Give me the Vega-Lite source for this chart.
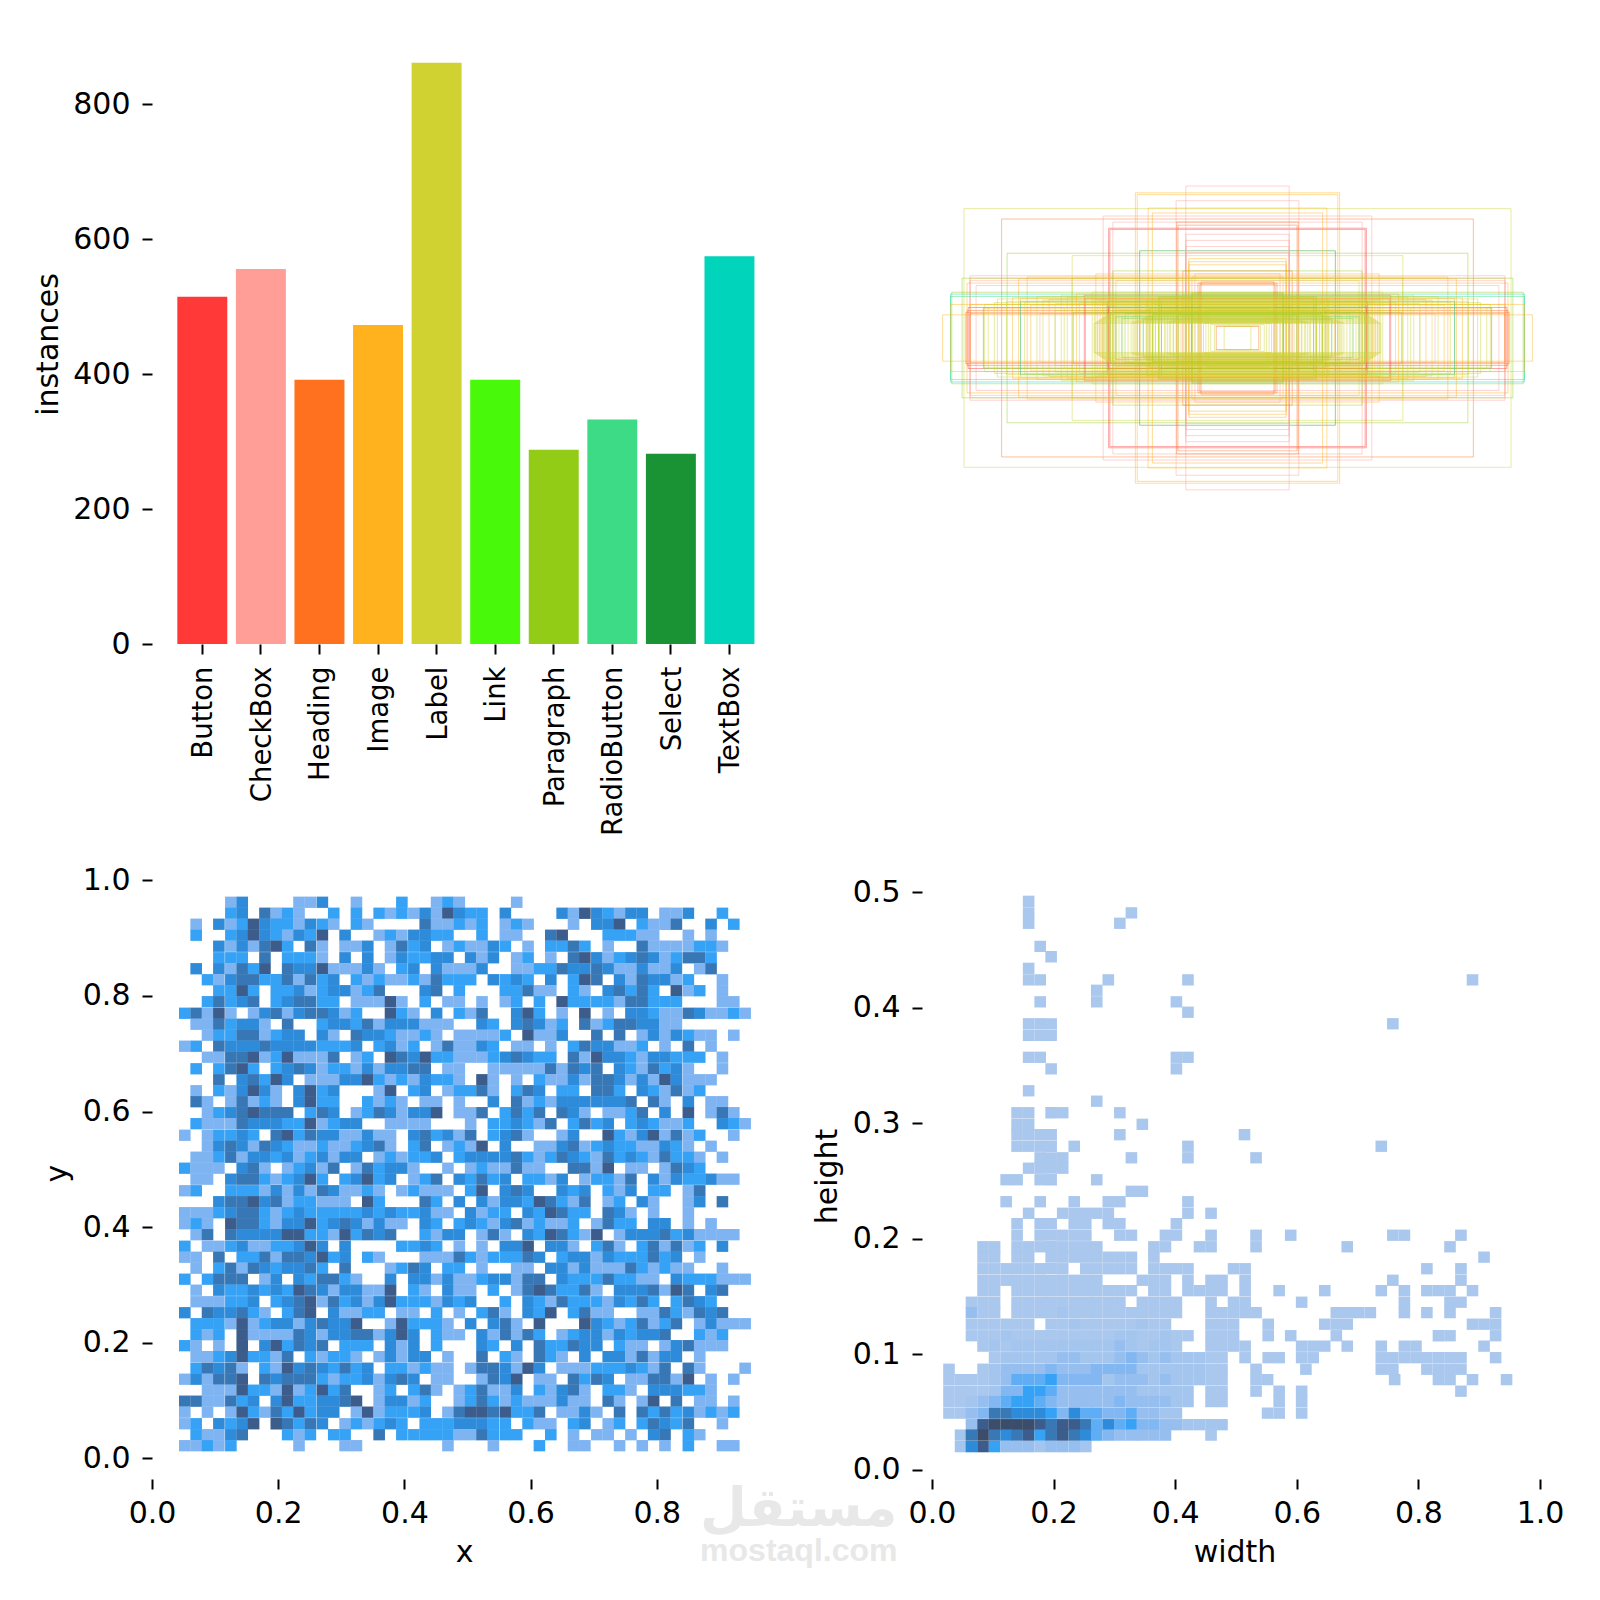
{"$schema":"https://vega.github.io/schema/vega-lite/v6.json","background":"white","padding":{"left":33,"top":32,"right":5,"bottom":5},"columns":2,"bounds":"flush","spacing":{"column":139,"row":223},"resolve":{"scale":{"color":"independent","stroke":"independent"}},
"config":{"view":{"stroke":null},"font":"DejaVu Sans","axis":{"grid":false,"domain":false,"labelFlush":false,"tickColor":"black","tickWidth":2,"tickSize":10,"labelColor":"black","titleColor":"black","labelFontSize":30,"titleFontSize":30,"titleFontWeight":"normal","labelPadding":9}},
"concat":[
{"width":631,"height":612,"data":{"values":[{"k":"Button","n":515},{"k":"CheckBox","n":556},{"k":"Heading","n":392},{"k":"Image","n":473},{"k":"Label","n":862},{"k":"Link","n":392},{"k":"Paragraph","n":288},{"k":"RadioButton","n":333},{"k":"Select","n":282},{"k":"TextBox","n":575}]},
"mark":"bar","encoding":{"x":{"field":"k","type":"nominal","sort":null,"title":null,"scale":{"paddingInner":0.147,"paddingOuter":0.46,"align":0.47},"axis":{"labelAngle":270,"labelPadding":12,"labelOffset":2,"labelFontSize":27.5}},"y":{"field":"n","type":"quantitative","title":"instances","scale":{"domain":[0,907.5],"nice":false},"axis":{"values":[0,200,400,600,800],"labelPadding":12,"titlePadding":9,"titleY":312}},"color":{"field":"k","type":"nominal","legend":null,"scale":{"range":["#FF3838","#FF9D97","#FF701F","#FFB21D","#CFD231","#48F90A","#92CC17","#3DDB86","#1A9334","#00D4BB"]}}}},
{"width":631,"height":612,"data":{"values":[
{"x":-0.45,"x2":0.45,"y":-0.212,"y2":0.212,"k":"Label"},{"x":-0.388,"x2":0.388,"y":-0.195,"y2":0.195,"k":"Heading"},{"x":-0.379,"x2":0.379,"y":-0.139,"y2":0.139,"k":"Paragraph"},{"x":-0.272,"x2":0.272,"y":-0.135,"y2":0.135,"k":"Label"},{"x":-0.161,"x2":0.161,"y":-0.143,"y2":0.143,"k":"Select"},{"x":-0.212,"x2":0.212,"y":-0.18,"y2":0.18,"k":"Button"},{"x":-0.21,"x2":0.21,"y":-0.178,"y2":0.178,"k":"Button"},{"x":-0.221,"x2":0.221,"y":-0.2,"y2":0.2,"k":"CheckBox"},{"x":-0.205,"x2":0.205,"y":-0.19,"y2":0.19,"k":"CheckBox"},{"x":-0.168,"x2":0.168,"y":-0.238,"y2":0.238,"k":"Image"},{"x":-0.165,"x2":0.165,"y":-0.235,"y2":0.235,"k":"Image"},{"x":-0.085,"x2":0.085,"y":-0.249,"y2":0.249,"k":"CheckBox"},{"x":-0.101,"x2":0.101,"y":-0.225,"y2":0.225,"k":"CheckBox"},{"x":-0.147,"x2":0.147,"y":-0.213,"y2":0.213,"k":"Image"},{"x":-0.14,"x2":0.14,"y":-0.205,"y2":0.205,"k":"Image"},{"x":-0.1,"x2":0.1,"y":-0.19,"y2":0.19,"k":"Heading"},{"x":-0.098,"x2":0.098,"y":-0.185,"y2":0.185,"k":"Heading"},{"x":-0.085,"x2":0.085,"y":-0.17,"y2":0.17,"k":"CheckBox"},{"x":-0.085,"x2":0.085,"y":-0.16,"y2":0.16,"k":"CheckBox"},{"x":-0.085,"x2":0.085,"y":-0.15,"y2":0.15,"k":"CheckBox"},{"x":-0.085,"x2":0.085,"y":-0.14,"y2":0.14,"k":"CheckBox"},{"x":-0.08,"x2":0.08,"y":-0.13,"y2":0.13,"k":"Image"},{"x":-0.08,"x2":0.08,"y":-0.125,"y2":0.125,"k":"Image"},{"x":-0.08,"x2":0.08,"y":-0.12,"y2":0.12,"k":"Image"},{"x":-0.09,"x2":0.09,"y":-0.11,"y2":0.11,"k":"Heading"},{"x":-0.07,"x2":0.07,"y":-0.105,"y2":0.105,"k":"CheckBox"},{"x":-0.075,"x2":0.075,"y":-0.1,"y2":0.1,"k":"Image"},
{"x":-0.44,"x2":0.44,"y":-0.102,"y2":0.102,"k":"CheckBox"},{"x":-0.44,"x2":0.44,"y":-0.098,"y2":0.098,"k":"CheckBox"},{"x":-0.44,"x2":0.44,"y":-0.094,"y2":0.094,"k":"CheckBox"},{"x":-0.445,"x2":0.445,"y":-0.09,"y2":0.09,"k":"Image"},{"x":-0.43,"x2":0.43,"y":-0.086,"y2":0.086,"k":"CheckBox"},{"x":-0.453,"x2":0.453,"y":-0.098,"y2":0.098,"k":"Paragraph"},{"x":-0.36,"x2":0.36,"y":-0.097,"y2":0.097,"k":"Image"},{"x":-0.346,"x2":0.346,"y":-0.1,"y2":0.1,"k":"Image"},{"x":-0.272,"x2":0.272,"y":-0.098,"y2":0.098,"k":"Label"},{"x":-0.233,"x2":0.233,"y":-0.105,"y2":0.105,"k":"Image"},{"x":-0.205,"x2":0.205,"y":-0.11,"y2":0.11,"k":"Paragraph"},{"x":-0.2,"x2":0.2,"y":-0.094,"y2":0.094,"k":"Label"},
{"x":-0.472,"x2":0.472,"y":-0.072,"y2":0.072,"k":"TextBox"},{"x":-0.472,"x2":0.472,"y":-0.068,"y2":0.068,"k":"RadioButton"},{"x":-0.47,"x2":0.47,"y":-0.075,"y2":0.075,"k":"Paragraph"},{"x":-0.472,"x2":0.472,"y":-0.055,"y2":0.055,"k":"Image"},{"x":-0.485,"x2":0.485,"y":-0.038,"y2":0.038,"k":"Image"},{"x":-0.447,"x2":0.447,"y":-0.042,"y2":0.042,"k":"Heading"},{"x":-0.445,"x2":0.445,"y":-0.045,"y2":0.045,"k":"Heading"},{"x":-0.443,"x2":0.443,"y":-0.05,"y2":0.05,"k":"Button"},{"x":-0.44,"x2":0.44,"y":-0.055,"y2":0.055,"k":"Image"},{"x":-0.44,"x2":0.44,"y":-0.04,"y2":0.04,"k":"Heading"},{"x":-0.418,"x2":0.418,"y":-0.05,"y2":0.05,"k":"RadioButton"},{"x":-0.418,"x2":0.418,"y":-0.048,"y2":0.048,"k":"Image"},{"x":-0.416,"x2":0.416,"y":-0.055,"y2":0.055,"k":"Label"},{"x":-0.41,"x2":0.41,"y":-0.05,"y2":0.05,"k":"Label"},{"x":-0.357,"x2":0.357,"y":-0.065,"y2":0.065,"k":"Image"},{"x":-0.357,"x2":0.357,"y":-0.06,"y2":0.06,"k":"TextBox"},{"x":-0.325,"x2":0.325,"y":-0.04,"y2":0.04,"k":"CheckBox"},{"x":-0.3,"x2":0.3,"y":-0.045,"y2":0.045,"k":"Label"},{"x":-0.285,"x2":0.285,"y":-0.05,"y2":0.05,"k":"Label"},{"x":-0.27,"x2":0.27,"y":-0.042,"y2":0.042,"k":"Paragraph"},{"x":-0.26,"x2":0.26,"y":-0.058,"y2":0.058,"k":"Label"},
{"x":-0.252,"x2":0.252,"y":-0.07,"y2":0.07,"k":"Button"},{"x":-0.25,"x2":0.25,"y":-0.065,"y2":0.065,"k":"Heading"},{"x":-0.239,"x2":0.239,"y":-0.075,"y2":0.075,"k":"Label"},{"x":-0.214,"x2":0.214,"y":-0.06,"y2":0.06,"k":"Heading"},{"x":-0.212,"x2":0.212,"y":-0.05,"y2":0.05,"k":"Button"},{"x":-0.2,"x2":0.2,"y":-0.035,"y2":0.035,"k":"TextBox"},{"x":-0.19,"x2":0.19,"y":-0.032,"y2":0.032,"k":"RadioButton"},{"x":-0.18,"x2":0.18,"y":-0.04,"y2":0.04,"k":"Label"},{"x":-0.172,"x2":0.172,"y":-0.036,"y2":0.036,"k":"Label"},{"x":-0.165,"x2":0.165,"y":-0.044,"y2":0.044,"k":"Label"},{"x":-0.155,"x2":0.155,"y":-0.03,"y2":0.03,"k":"TextBox"},{"x":-0.145,"x2":0.145,"y":-0.048,"y2":0.048,"k":"Paragraph"},{"x":-0.138,"x2":0.138,"y":-0.038,"y2":0.038,"k":"Label"},{"x":-0.13,"x2":0.13,"y":-0.068,"y2":0.068,"k":"Paragraph"},{"x":-0.128,"x2":0.128,"y":-0.066,"y2":0.066,"k":"Paragraph"},{"x":-0.125,"x2":0.125,"y":-0.064,"y2":0.064,"k":"Paragraph"},{"x":-0.075,"x2":0.075,"y":-0.07,"y2":0.07,"k":"Paragraph"},{"x":-0.075,"x2":0.075,"y":-0.072,"y2":0.072,"k":"Paragraph"},{"x":-0.075,"x2":0.075,"y":-0.074,"y2":0.074,"k":"Paragraph"},{"x":-0.065,"x2":0.065,"y":-0.09,"y2":0.09,"k":"Heading"},{"x":-0.062,"x2":0.062,"y":-0.088,"y2":0.088,"k":"Heading"},{"x":-0.06,"x2":0.06,"y":-0.092,"y2":0.092,"k":"Heading"},
{"x":-0.4,"x2":0.4,"y":-0.058,"y2":0.058,"k":"Label"},{"x":-0.38,"x2":0.38,"y":-0.06,"y2":0.06,"k":"Label"},{"x":-0.34,"x2":0.34,"y":-0.054,"y2":0.054,"k":"Image"},{"x":-0.32,"x2":0.32,"y":-0.062,"y2":0.062,"k":"Label"},{"x":-0.3,"x2":0.3,"y":-0.056,"y2":0.056,"k":"Label"},{"x":-0.235,"x2":0.235,"y":-0.063,"y2":0.063,"k":"Label"},{"x":-0.23,"x2":0.23,"y":-0.061,"y2":0.061,"k":"Label"},{"x":-0.226,"x2":0.226,"y":-0.059,"y2":0.059,"k":"Image"},{"x":-0.222,"x2":0.222,"y":-0.057,"y2":0.057,"k":"Label"},{"x":-0.218,"x2":0.218,"y":-0.054,"y2":0.054,"k":"Label"},{"x":-0.215,"x2":0.215,"y":-0.052,"y2":0.052,"k":"Paragraph"},{"x":-0.21,"x2":0.21,"y":-0.05,"y2":0.05,"k":"Label"},{"x":-0.205,"x2":0.205,"y":-0.048,"y2":0.048,"k":"Label"},{"x":-0.2,"x2":0.2,"y":-0.046,"y2":0.046,"k":"Image"},{"x":-0.195,"x2":0.195,"y":-0.044,"y2":0.044,"k":"Label"},{"x":-0.19,"x2":0.19,"y":-0.042,"y2":0.042,"k":"Label"},{"x":-0.185,"x2":0.185,"y":-0.04,"y2":0.04,"k":"Paragraph"},{"x":-0.15,"x2":0.15,"y":-0.062,"y2":0.062,"k":"Label"},{"x":-0.148,"x2":0.148,"y":-0.06,"y2":0.06,"k":"Label"},{"x":-0.143,"x2":0.143,"y":-0.058,"y2":0.058,"k":"Label"},{"x":-0.14,"x2":0.14,"y":-0.056,"y2":0.056,"k":"Label"},{"x":-0.135,"x2":0.135,"y":-0.054,"y2":0.054,"k":"Label"},{"x":-0.13,"x2":0.13,"y":-0.052,"y2":0.052,"k":"Label"},{"x":-0.125,"x2":0.125,"y":-0.05,"y2":0.05,"k":"Paragraph"},{"x":-0.12,"x2":0.12,"y":-0.048,"y2":0.048,"k":"Label"},{"x":-0.115,"x2":0.115,"y":-0.046,"y2":0.046,"k":"Label"},{"x":-0.11,"x2":0.11,"y":-0.044,"y2":0.044,"k":"Label"},{"x":-0.105,"x2":0.105,"y":-0.042,"y2":0.042,"k":"Label"},{"x":-0.1,"x2":0.1,"y":-0.04,"y2":0.04,"k":"Label"},{"x":-0.097,"x2":0.097,"y":-0.038,"y2":0.038,"k":"Paragraph"},{"x":-0.093,"x2":0.093,"y":-0.036,"y2":0.036,"k":"Label"},{"x":-0.088,"x2":0.088,"y":-0.034,"y2":0.034,"k":"Label"},{"x":-0.084,"x2":0.084,"y":-0.032,"y2":0.032,"k":"Label"},{"x":-0.08,"x2":0.08,"y":-0.03,"y2":0.03,"k":"Label"},{"x":-0.076,"x2":0.076,"y":-0.028,"y2":0.028,"k":"Paragraph"},{"x":-0.07,"x2":0.07,"y":-0.026,"y2":0.026,"k":"Label"},{"x":-0.064,"x2":0.064,"y":-0.052,"y2":0.052,"k":"Label"},{"x":-0.06,"x2":0.06,"y":-0.05,"y2":0.05,"k":"Label"},{"x":-0.056,"x2":0.056,"y":-0.024,"y2":0.024,"k":"Image"},{"x":-0.052,"x2":0.052,"y":-0.048,"y2":0.048,"k":"Label"},{"x":-0.048,"x2":0.048,"y":-0.046,"y2":0.046,"k":"Label"},{"x":-0.044,"x2":0.044,"y":-0.022,"y2":0.022,"k":"Label"},{"x":-0.038,"x2":0.038,"y":-0.02,"y2":0.02,"k":"Label"},{"x":-0.035,"x2":0.035,"y":-0.019,"y2":0.019,"k":"Heading"},{"x":-0.022,"x2":0.022,"y":-0.019,"y2":0.019,"k":"Label"},
{"x":-0.236,"x2":0.236,"y":-0.024,"y2":0.024,"k":"Label"},{"x":-0.233,"x2":0.233,"y":-0.026,"y2":0.026,"k":"Label"},{"x":-0.23,"x2":0.23,"y":-0.028,"y2":0.028,"k":"Label"},{"x":-0.227,"x2":0.227,"y":-0.03,"y2":0.03,"k":"Label"},{"x":-0.224,"x2":0.224,"y":-0.032,"y2":0.032,"k":"Label"},{"x":-0.221,"x2":0.221,"y":-0.034,"y2":0.034,"k":"Image"},{"x":-0.218,"x2":0.218,"y":-0.036,"y2":0.036,"k":"Label"},{"x":-0.215,"x2":0.215,"y":-0.038,"y2":0.038,"k":"Label"},{"x":-0.212,"x2":0.212,"y":-0.04,"y2":0.04,"k":"Label"},{"x":-0.209,"x2":0.209,"y":-0.042,"y2":0.042,"k":"Paragraph"},{"x":-0.206,"x2":0.206,"y":-0.044,"y2":0.044,"k":"Label"},{"x":-0.203,"x2":0.203,"y":-0.046,"y2":0.046,"k":"Label"},{"x":-0.175,"x2":0.175,"y":-0.025,"y2":0.025,"k":"Label"},{"x":-0.17,"x2":0.17,"y":-0.027,"y2":0.027,"k":"Label"},{"x":-0.165,"x2":0.165,"y":-0.029,"y2":0.029,"k":"Label"},{"x":-0.16,"x2":0.16,"y":-0.031,"y2":0.031,"k":"Image"},{"x":-0.155,"x2":0.155,"y":-0.033,"y2":0.033,"k":"Label"},{"x":-0.15,"x2":0.15,"y":-0.035,"y2":0.035,"k":"Label"},{"x":-0.145,"x2":0.145,"y":-0.037,"y2":0.037,"k":"Label"},{"x":-0.14,"x2":0.14,"y":-0.039,"y2":0.039,"k":"Paragraph"},{"x":-0.135,"x2":0.135,"y":-0.041,"y2":0.041,"k":"Label"},{"x":-0.13,"x2":0.13,"y":-0.043,"y2":0.043,"k":"Label"},{"x":-0.125,"x2":0.125,"y":-0.045,"y2":0.045,"k":"Label"},{"x":-0.118,"x2":0.118,"y":-0.025,"y2":0.025,"k":"Label"},{"x":-0.112,"x2":0.112,"y":-0.027,"y2":0.027,"k":"Label"},{"x":-0.106,"x2":0.106,"y":-0.029,"y2":0.029,"k":"Label"},{"x":-0.395,"x2":0.395,"y":-0.064,"y2":0.064,"k":"Label"},{"x":-0.37,"x2":0.37,"y":-0.066,"y2":0.066,"k":"Image"},{"x":-0.35,"x2":0.35,"y":-0.059,"y2":0.059,"k":"Label"},{"x":-0.33,"x2":0.33,"y":-0.068,"y2":0.068,"k":"Label"},{"x":-0.31,"x2":0.31,"y":-0.063,"y2":0.063,"k":"Image"},{"x":-0.29,"x2":0.29,"y":-0.07,"y2":0.07,"k":"Label"},{"x":-0.28,"x2":0.28,"y":-0.067,"y2":0.067,"k":"Label"},{"x":-0.265,"x2":0.265,"y":-0.072,"y2":0.072,"k":"Image"}
]},
"mark":{"type":"rect","fillOpacity":0,"strokeWidth":0.9,"strokeOpacity":0.5},"encoding":{"x":{"field":"x","type":"quantitative","scale":{"domain":[-0.519,0.519],"nice":false,"zero":false},"axis":null},"x2":{"field":"x2"},"y":{"field":"y","type":"quantitative","scale":{"domain":[-0.5016,0.5016],"nice":false,"zero":false},"axis":null},"y2":{"field":"y2"},"stroke":{"field":"k","type":"nominal","legend":null,"scale":{"domain":["Button","CheckBox","Heading","Image","Label","Link","Paragraph","RadioButton","Select","TextBox"],"range":["#FF3838","#FF9D97","#FF701F","#FFB21D","#CFD231","#48F90A","#92CC17","#3DDB86","#1A9334","#00D4BB"]}}}},
{"width":631,"height":612,"layer":[
{"data":{"values":[
{"x":125,"y":962,"c":1},{"x":143,"y":962,"c":3},{"x":233,"y":962,"c":1},{"x":251,"y":962,"c":1},{"x":270,"y":962,"c":3},{"x":324,"y":962,"c":1},{"x":396,"y":962,"c":2},{"x":451,"y":962,"c":1},{"x":469,"y":962,"c":2},{"x":487,"y":962,"c":1},{"x":578,"y":962,"c":1},
{"x":125,"y":943,"c":2},{"x":143,"y":943,"c":3},{"x":179,"y":943,"c":4},{"x":197,"y":943,"c":1},{"x":215,"y":943,"c":2},{"x":233,"y":943,"c":1},{"x":288,"y":943,"c":2},{"x":324,"y":943,"c":2},{"x":360,"y":943,"c":2},{"x":378,"y":943,"c":1},{"x":396,"y":943,"c":2},{"x":415,"y":943,"c":1},{"x":433,"y":943,"c":3},{"x":451,"y":943,"c":1},{"x":469,"y":943,"c":5},{"x":487,"y":943,"c":3},{"x":505,"y":943,"c":2},{"x":523,"y":943,"c":2},{"x":560,"y":943,"c":3},{"x":650,"y":943,"c":3},{"x":668,"y":943,"c":1},{"x":686,"y":943,"c":5},{"x":705,"y":943,"c":3},{"x":723,"y":943,"c":2},{"x":741,"y":943,"c":1},{"x":759,"y":943,"c":3},{"x":777,"y":943,"c":3},{"x":813,"y":943,"c":1},{"x":831,"y":943,"c":1},{"x":850,"y":943,"c":3},{"x":904,"y":943,"c":2},
{"x":70,"y":924,"c":1},{"x":106,"y":924,"c":3},{"x":125,"y":924,"c":1},{"x":143,"y":924,"c":2},{"x":161,"y":924,"c":5},{"x":179,"y":924,"c":3},{"x":197,"y":924,"c":2},{"x":215,"y":924,"c":2},{"x":233,"y":924,"c":1},{"x":251,"y":924,"c":3},{"x":270,"y":924,"c":2},{"x":288,"y":924,"c":1},{"x":324,"y":924,"c":2},{"x":342,"y":924,"c":1},{"x":433,"y":924,"c":4},{"x":451,"y":924,"c":1},{"x":469,"y":924,"c":1},{"x":487,"y":924,"c":2},{"x":505,"y":924,"c":1},{"x":523,"y":924,"c":2},{"x":560,"y":924,"c":1},{"x":578,"y":924,"c":2},{"x":596,"y":924,"c":1},{"x":668,"y":924,"c":1},{"x":705,"y":924,"c":3},{"x":723,"y":924,"c":3},{"x":741,"y":924,"c":5},{"x":777,"y":924,"c":2},{"x":795,"y":924,"c":1},{"x":813,"y":924,"c":1},{"x":831,"y":924,"c":4},{"x":886,"y":924,"c":3},{"x":922,"y":924,"c":2},
{"x":70,"y":905,"c":2},{"x":125,"y":905,"c":2},{"x":143,"y":905,"c":3},{"x":161,"y":905,"c":5},{"x":179,"y":905,"c":3},{"x":197,"y":905,"c":2},{"x":215,"y":905,"c":1},{"x":233,"y":905,"c":3},{"x":251,"y":905,"c":2},{"x":270,"y":905,"c":5},{"x":306,"y":905,"c":3},{"x":360,"y":905,"c":1},{"x":378,"y":905,"c":2},{"x":396,"y":905,"c":1},{"x":415,"y":905,"c":3},{"x":433,"y":905,"c":3},{"x":451,"y":905,"c":2},{"x":469,"y":905,"c":2},{"x":523,"y":905,"c":2},{"x":560,"y":905,"c":1},{"x":578,"y":905,"c":1},{"x":632,"y":905,"c":4},{"x":650,"y":905,"c":5},{"x":723,"y":905,"c":2},{"x":741,"y":905,"c":2},{"x":759,"y":905,"c":2},{"x":777,"y":905,"c":1},{"x":795,"y":905,"c":1},{"x":850,"y":905,"c":1},{"x":886,"y":905,"c":1},
{"x":106,"y":886,"c":3},{"x":125,"y":886,"c":1},{"x":143,"y":886,"c":3},{"x":161,"y":886,"c":1},{"x":179,"y":886,"c":4},{"x":197,"y":886,"c":5},{"x":215,"y":886,"c":2},{"x":251,"y":886,"c":4},{"x":270,"y":886,"c":1},{"x":306,"y":886,"c":1},{"x":324,"y":886,"c":1},{"x":342,"y":886,"c":3},{"x":378,"y":886,"c":1},{"x":396,"y":886,"c":4},{"x":415,"y":886,"c":2},{"x":433,"y":886,"c":3},{"x":469,"y":886,"c":1},{"x":487,"y":886,"c":2},{"x":505,"y":886,"c":1},{"x":523,"y":886,"c":1},{"x":541,"y":886,"c":3},{"x":560,"y":886,"c":2},{"x":596,"y":886,"c":1},{"x":632,"y":886,"c":2},{"x":650,"y":886,"c":2},{"x":668,"y":886,"c":4},{"x":686,"y":886,"c":2},{"x":723,"y":886,"c":1},{"x":777,"y":886,"c":4},{"x":795,"y":886,"c":1},{"x":813,"y":886,"c":1},{"x":831,"y":886,"c":1},{"x":850,"y":886,"c":1},{"x":868,"y":886,"c":2},{"x":886,"y":886,"c":2},{"x":904,"y":886,"c":1},
{"x":106,"y":866,"c":2},{"x":125,"y":866,"c":2},{"x":143,"y":866,"c":2},{"x":179,"y":866,"c":4},{"x":215,"y":866,"c":2},{"x":233,"y":866,"c":2},{"x":251,"y":866,"c":2},{"x":270,"y":866,"c":1},{"x":306,"y":866,"c":3},{"x":342,"y":866,"c":3},{"x":378,"y":866,"c":1},{"x":396,"y":866,"c":3},{"x":415,"y":866,"c":2},{"x":433,"y":866,"c":2},{"x":451,"y":866,"c":3},{"x":469,"y":866,"c":3},{"x":505,"y":866,"c":3},{"x":523,"y":866,"c":1},{"x":541,"y":866,"c":3},{"x":578,"y":866,"c":1},{"x":596,"y":866,"c":2},{"x":632,"y":866,"c":1},{"x":668,"y":866,"c":4},{"x":686,"y":866,"c":5},{"x":705,"y":866,"c":3},{"x":723,"y":866,"c":1},{"x":741,"y":866,"c":2},{"x":759,"y":866,"c":3},{"x":777,"y":866,"c":4},{"x":795,"y":866,"c":3},{"x":813,"y":866,"c":1},{"x":831,"y":866,"c":2},{"x":850,"y":866,"c":4},{"x":868,"y":866,"c":4},{"x":886,"y":866,"c":2},
{"x":70,"y":847,"c":3},{"x":106,"y":847,"c":3},{"x":125,"y":847,"c":1},{"x":143,"y":847,"c":4},{"x":161,"y":847,"c":2},{"x":179,"y":847,"c":5},{"x":215,"y":847,"c":4},{"x":233,"y":847,"c":3},{"x":251,"y":847,"c":3},{"x":270,"y":847,"c":5},{"x":288,"y":847,"c":1},{"x":306,"y":847,"c":1},{"x":324,"y":847,"c":1},{"x":342,"y":847,"c":3},{"x":360,"y":847,"c":1},{"x":396,"y":847,"c":2},{"x":415,"y":847,"c":3},{"x":451,"y":847,"c":3},{"x":469,"y":847,"c":1},{"x":487,"y":847,"c":1},{"x":505,"y":847,"c":1},{"x":523,"y":847,"c":3},{"x":578,"y":847,"c":1},{"x":596,"y":847,"c":1},{"x":614,"y":847,"c":2},{"x":632,"y":847,"c":2},{"x":650,"y":847,"c":4},{"x":668,"y":847,"c":3},{"x":686,"y":847,"c":3},{"x":705,"y":847,"c":4},{"x":723,"y":847,"c":3},{"x":741,"y":847,"c":1},{"x":759,"y":847,"c":1},{"x":777,"y":847,"c":3},{"x":795,"y":847,"c":1},{"x":813,"y":847,"c":1},{"x":831,"y":847,"c":3},{"x":868,"y":847,"c":1},{"x":886,"y":847,"c":4},
{"x":88,"y":828,"c":2},{"x":106,"y":828,"c":1},{"x":125,"y":828,"c":3},{"x":143,"y":828,"c":4},{"x":161,"y":828,"c":4},{"x":179,"y":828,"c":2},{"x":197,"y":828,"c":2},{"x":215,"y":828,"c":4},{"x":233,"y":828,"c":1},{"x":251,"y":828,"c":4},{"x":270,"y":828,"c":2},{"x":288,"y":828,"c":3},{"x":324,"y":828,"c":2},{"x":342,"y":828,"c":1},{"x":360,"y":828,"c":2},{"x":378,"y":828,"c":1},{"x":396,"y":828,"c":1},{"x":415,"y":828,"c":2},{"x":433,"y":828,"c":1},{"x":451,"y":828,"c":4},{"x":469,"y":828,"c":2},{"x":487,"y":828,"c":2},{"x":505,"y":828,"c":2},{"x":541,"y":828,"c":3},{"x":560,"y":828,"c":2},{"x":578,"y":828,"c":3},{"x":596,"y":828,"c":2},{"x":632,"y":828,"c":3},{"x":668,"y":828,"c":2},{"x":686,"y":828,"c":5},{"x":705,"y":828,"c":4},{"x":741,"y":828,"c":3},{"x":759,"y":828,"c":1},{"x":777,"y":828,"c":4},{"x":795,"y":828,"c":3},{"x":813,"y":828,"c":3},{"x":831,"y":828,"c":1},{"x":850,"y":828,"c":2},{"x":904,"y":828,"c":1},
{"x":106,"y":809,"c":2},{"x":125,"y":809,"c":2},{"x":143,"y":809,"c":5},{"x":161,"y":809,"c":2},{"x":197,"y":809,"c":2},{"x":215,"y":809,"c":2},{"x":233,"y":809,"c":3},{"x":251,"y":809,"c":1},{"x":270,"y":809,"c":2},{"x":288,"y":809,"c":3},{"x":306,"y":809,"c":3},{"x":324,"y":809,"c":1},{"x":342,"y":809,"c":2},{"x":360,"y":809,"c":4},{"x":433,"y":809,"c":3},{"x":451,"y":809,"c":4},{"x":487,"y":809,"c":2},{"x":560,"y":809,"c":2},{"x":578,"y":809,"c":2},{"x":596,"y":809,"c":4},{"x":614,"y":809,"c":1},{"x":632,"y":809,"c":1},{"x":668,"y":809,"c":2},{"x":686,"y":809,"c":1},{"x":723,"y":809,"c":3},{"x":741,"y":809,"c":4},{"x":759,"y":809,"c":2},{"x":777,"y":809,"c":4},{"x":795,"y":809,"c":2},{"x":831,"y":809,"c":5},{"x":850,"y":809,"c":1},{"x":868,"y":809,"c":2},{"x":904,"y":809,"c":1},
{"x":88,"y":790,"c":2},{"x":106,"y":790,"c":4},{"x":125,"y":790,"c":2},{"x":143,"y":790,"c":3},{"x":161,"y":790,"c":4},{"x":197,"y":790,"c":2},{"x":215,"y":790,"c":3},{"x":233,"y":790,"c":4},{"x":251,"y":790,"c":4},{"x":270,"y":790,"c":2},{"x":288,"y":790,"c":2},{"x":324,"y":790,"c":1},{"x":342,"y":790,"c":1},{"x":360,"y":790,"c":1},{"x":378,"y":790,"c":5},{"x":396,"y":790,"c":1},{"x":433,"y":790,"c":2},{"x":469,"y":790,"c":1},{"x":487,"y":790,"c":1},{"x":523,"y":790,"c":1},{"x":560,"y":790,"c":1},{"x":578,"y":790,"c":2},{"x":614,"y":790,"c":2},{"x":650,"y":790,"c":5},{"x":668,"y":790,"c":2},{"x":686,"y":790,"c":2},{"x":705,"y":790,"c":2},{"x":723,"y":790,"c":2},{"x":741,"y":790,"c":1},{"x":759,"y":790,"c":4},{"x":777,"y":790,"c":4},{"x":795,"y":790,"c":2},{"x":813,"y":790,"c":2},{"x":831,"y":790,"c":2},{"x":904,"y":790,"c":1},{"x":922,"y":790,"c":1},
{"x":52,"y":770,"c":2},{"x":70,"y":770,"c":4},{"x":88,"y":770,"c":1},{"x":106,"y":770,"c":5},{"x":125,"y":770,"c":1},{"x":161,"y":770,"c":1},{"x":179,"y":770,"c":3},{"x":197,"y":770,"c":4},{"x":215,"y":770,"c":1},{"x":233,"y":770,"c":3},{"x":251,"y":770,"c":4},{"x":270,"y":770,"c":4},{"x":288,"y":770,"c":3},{"x":306,"y":770,"c":1},{"x":324,"y":770,"c":2},{"x":378,"y":770,"c":5},{"x":396,"y":770,"c":2},{"x":415,"y":770,"c":1},{"x":451,"y":770,"c":3},{"x":487,"y":770,"c":2},{"x":505,"y":770,"c":1},{"x":523,"y":770,"c":4},{"x":578,"y":770,"c":3},{"x":596,"y":770,"c":5},{"x":614,"y":770,"c":2},{"x":650,"y":770,"c":1},{"x":686,"y":770,"c":5},{"x":723,"y":770,"c":1},{"x":759,"y":770,"c":3},{"x":777,"y":770,"c":3},{"x":795,"y":770,"c":2},{"x":813,"y":770,"c":1},{"x":831,"y":770,"c":1},{"x":850,"y":770,"c":4},{"x":868,"y":770,"c":3},{"x":886,"y":770,"c":1},{"x":904,"y":770,"c":1},{"x":922,"y":770,"c":2},{"x":940,"y":770,"c":1},
{"x":70,"y":751,"c":1},{"x":88,"y":751,"c":1},{"x":106,"y":751,"c":4},{"x":125,"y":751,"c":2},{"x":143,"y":751,"c":3},{"x":161,"y":751,"c":3},{"x":179,"y":751,"c":1},{"x":215,"y":751,"c":4},{"x":270,"y":751,"c":2},{"x":288,"y":751,"c":3},{"x":306,"y":751,"c":3},{"x":324,"y":751,"c":2},{"x":342,"y":751,"c":4},{"x":360,"y":751,"c":1},{"x":378,"y":751,"c":3},{"x":396,"y":751,"c":3},{"x":415,"y":751,"c":3},{"x":433,"y":751,"c":1},{"x":451,"y":751,"c":1},{"x":469,"y":751,"c":1},{"x":523,"y":751,"c":3},{"x":541,"y":751,"c":2},{"x":578,"y":751,"c":3},{"x":596,"y":751,"c":4},{"x":614,"y":751,"c":3},{"x":632,"y":751,"c":1},{"x":650,"y":751,"c":2},{"x":686,"y":751,"c":4},{"x":705,"y":751,"c":1},{"x":723,"y":751,"c":2},{"x":741,"y":751,"c":4},{"x":759,"y":751,"c":4},{"x":777,"y":751,"c":3},{"x":795,"y":751,"c":3},{"x":813,"y":751,"c":1},{"x":831,"y":751,"c":1},
{"x":88,"y":732,"c":1},{"x":106,"y":732,"c":2},{"x":125,"y":732,"c":2},{"x":143,"y":732,"c":4},{"x":161,"y":732,"c":4},{"x":179,"y":732,"c":1},{"x":197,"y":732,"c":2},{"x":215,"y":732,"c":3},{"x":233,"y":732,"c":3},{"x":270,"y":732,"c":3},{"x":288,"y":732,"c":1},{"x":324,"y":732,"c":4},{"x":342,"y":732,"c":3},{"x":360,"y":732,"c":3},{"x":378,"y":732,"c":2},{"x":396,"y":732,"c":1},{"x":415,"y":732,"c":1},{"x":433,"y":732,"c":2},{"x":451,"y":732,"c":1},{"x":487,"y":732,"c":1},{"x":505,"y":732,"c":1},{"x":523,"y":732,"c":1},{"x":541,"y":732,"c":1},{"x":560,"y":732,"c":2},{"x":596,"y":732,"c":5},{"x":614,"y":732,"c":1},{"x":632,"y":732,"c":1},{"x":650,"y":732,"c":3},{"x":705,"y":732,"c":4},{"x":741,"y":732,"c":4},{"x":777,"y":732,"c":1},{"x":795,"y":732,"c":3},{"x":813,"y":732,"c":1},{"x":831,"y":732,"c":3},{"x":850,"y":732,"c":2},{"x":868,"y":732,"c":1},{"x":886,"y":732,"c":1},{"x":922,"y":732,"c":1},
{"x":52,"y":713,"c":1},{"x":70,"y":713,"c":2},{"x":106,"y":713,"c":4},{"x":125,"y":713,"c":3},{"x":143,"y":713,"c":3},{"x":161,"y":713,"c":3},{"x":179,"y":713,"c":4},{"x":197,"y":713,"c":3},{"x":215,"y":713,"c":3},{"x":233,"y":713,"c":3},{"x":251,"y":713,"c":3},{"x":270,"y":713,"c":2},{"x":288,"y":713,"c":2},{"x":306,"y":713,"c":2},{"x":324,"y":713,"c":3},{"x":360,"y":713,"c":2},{"x":378,"y":713,"c":3},{"x":396,"y":713,"c":1},{"x":415,"y":713,"c":2},{"x":451,"y":713,"c":1},{"x":469,"y":713,"c":4},{"x":487,"y":713,"c":1},{"x":505,"y":713,"c":1},{"x":523,"y":713,"c":3},{"x":541,"y":713,"c":2},{"x":578,"y":713,"c":1},{"x":596,"y":713,"c":1},{"x":632,"y":713,"c":1},{"x":668,"y":713,"c":2},{"x":686,"y":713,"c":4},{"x":705,"y":713,"c":3},{"x":723,"y":713,"c":3},{"x":741,"y":713,"c":1},{"x":759,"y":713,"c":1},{"x":777,"y":713,"c":2},{"x":813,"y":713,"c":1},{"x":850,"y":713,"c":4},{"x":886,"y":713,"c":1},
{"x":88,"y":694,"c":1},{"x":106,"y":694,"c":1},{"x":125,"y":694,"c":4},{"x":143,"y":694,"c":4},{"x":161,"y":694,"c":5},{"x":179,"y":694,"c":1},{"x":197,"y":694,"c":2},{"x":215,"y":694,"c":5},{"x":233,"y":694,"c":1},{"x":251,"y":694,"c":1},{"x":270,"y":694,"c":1},{"x":288,"y":694,"c":4},{"x":324,"y":694,"c":1},{"x":342,"y":694,"c":2},{"x":378,"y":694,"c":5},{"x":396,"y":694,"c":4},{"x":415,"y":694,"c":3},{"x":433,"y":694,"c":5},{"x":451,"y":694,"c":2},{"x":469,"y":694,"c":2},{"x":487,"y":694,"c":1},{"x":505,"y":694,"c":1},{"x":523,"y":694,"c":1},{"x":541,"y":694,"c":2},{"x":560,"y":694,"c":3},{"x":578,"y":694,"c":4},{"x":596,"y":694,"c":3},{"x":614,"y":694,"c":2},{"x":632,"y":694,"c":2},{"x":668,"y":694,"c":4},{"x":686,"y":694,"c":1},{"x":705,"y":694,"c":5},{"x":723,"y":694,"c":3},{"x":741,"y":694,"c":3},{"x":759,"y":694,"c":2},{"x":777,"y":694,"c":1},{"x":795,"y":694,"c":3},{"x":813,"y":694,"c":3},{"x":831,"y":694,"c":2},{"x":850,"y":694,"c":2},{"x":868,"y":694,"c":2},{"x":904,"y":694,"c":1},
{"x":70,"y":674,"c":2},{"x":106,"y":674,"c":2},{"x":125,"y":674,"c":4},{"x":143,"y":674,"c":5},{"x":161,"y":674,"c":2},{"x":197,"y":674,"c":2},{"x":215,"y":674,"c":3},{"x":233,"y":674,"c":4},{"x":251,"y":674,"c":3},{"x":270,"y":674,"c":1},{"x":288,"y":674,"c":2},{"x":306,"y":674,"c":2},{"x":324,"y":674,"c":1},{"x":342,"y":674,"c":3},{"x":360,"y":674,"c":1},{"x":378,"y":674,"c":3},{"x":396,"y":674,"c":3},{"x":415,"y":674,"c":4},{"x":433,"y":674,"c":4},{"x":469,"y":674,"c":1},{"x":487,"y":674,"c":1},{"x":541,"y":674,"c":1},{"x":560,"y":674,"c":1},{"x":578,"y":674,"c":1},{"x":596,"y":674,"c":1},{"x":614,"y":674,"c":1},{"x":632,"y":674,"c":4},{"x":650,"y":674,"c":1},{"x":668,"y":674,"c":4},{"x":686,"y":674,"c":3},{"x":705,"y":674,"c":4},{"x":741,"y":674,"c":3},{"x":759,"y":674,"c":2},{"x":777,"y":674,"c":1},{"x":795,"y":674,"c":4},{"x":813,"y":674,"c":2},{"x":831,"y":674,"c":3},{"x":850,"y":674,"c":1},{"x":904,"y":674,"c":1},
{"x":106,"y":655,"c":4},{"x":143,"y":655,"c":3},{"x":161,"y":655,"c":4},{"x":179,"y":655,"c":2},{"x":197,"y":655,"c":5},{"x":215,"y":655,"c":3},{"x":251,"y":655,"c":1},{"x":270,"y":655,"c":1},{"x":288,"y":655,"c":1},{"x":306,"y":655,"c":3},{"x":324,"y":655,"c":3},{"x":342,"y":655,"c":5},{"x":360,"y":655,"c":2},{"x":378,"y":655,"c":1},{"x":396,"y":655,"c":2},{"x":415,"y":655,"c":1},{"x":433,"y":655,"c":3},{"x":451,"y":655,"c":2},{"x":469,"y":655,"c":2},{"x":487,"y":655,"c":1},{"x":523,"y":655,"c":5},{"x":541,"y":655,"c":1},{"x":578,"y":655,"c":1},{"x":614,"y":655,"c":2},{"x":632,"y":655,"c":1},{"x":650,"y":655,"c":1},{"x":668,"y":655,"c":3},{"x":686,"y":655,"c":1},{"x":705,"y":655,"c":4},{"x":723,"y":655,"c":4},{"x":741,"y":655,"c":3},{"x":759,"y":655,"c":1},{"x":777,"y":655,"c":3},{"x":795,"y":655,"c":1},{"x":813,"y":655,"c":5},{"x":831,"y":655,"c":3},{"x":850,"y":655,"c":1},{"x":868,"y":655,"c":1},{"x":886,"y":655,"c":1},
{"x":70,"y":636,"c":1},{"x":106,"y":636,"c":2},{"x":125,"y":636,"c":1},{"x":143,"y":636,"c":3},{"x":161,"y":636,"c":5},{"x":179,"y":636,"c":3},{"x":197,"y":636,"c":1},{"x":233,"y":636,"c":3},{"x":251,"y":636,"c":5},{"x":270,"y":636,"c":2},{"x":288,"y":636,"c":3},{"x":360,"y":636,"c":1},{"x":378,"y":636,"c":5},{"x":415,"y":636,"c":2},{"x":433,"y":636,"c":3},{"x":469,"y":636,"c":1},{"x":487,"y":636,"c":2},{"x":505,"y":636,"c":2},{"x":523,"y":636,"c":4},{"x":541,"y":636,"c":1},{"x":578,"y":636,"c":2},{"x":596,"y":636,"c":4},{"x":614,"y":636,"c":3},{"x":650,"y":636,"c":2},{"x":668,"y":636,"c":2},{"x":705,"y":636,"c":4},{"x":723,"y":636,"c":4},{"x":741,"y":636,"c":2},{"x":777,"y":636,"c":3},{"x":795,"y":636,"c":2},{"x":813,"y":636,"c":1},{"x":831,"y":636,"c":4},{"x":850,"y":636,"c":1},{"x":868,"y":636,"c":2},
{"x":70,"y":617,"c":4},{"x":88,"y":617,"c":1},{"x":125,"y":617,"c":1},{"x":143,"y":617,"c":4},{"x":161,"y":617,"c":1},{"x":179,"y":617,"c":2},{"x":197,"y":617,"c":1},{"x":233,"y":617,"c":3},{"x":251,"y":617,"c":5},{"x":270,"y":617,"c":2},{"x":288,"y":617,"c":2},{"x":342,"y":617,"c":2},{"x":360,"y":617,"c":1},{"x":378,"y":617,"c":2},{"x":396,"y":617,"c":1},{"x":433,"y":617,"c":1},{"x":451,"y":617,"c":1},{"x":487,"y":617,"c":1},{"x":541,"y":617,"c":3},{"x":578,"y":617,"c":4},{"x":596,"y":617,"c":1},{"x":614,"y":617,"c":2},{"x":632,"y":617,"c":1},{"x":650,"y":617,"c":3},{"x":668,"y":617,"c":3},{"x":686,"y":617,"c":3},{"x":705,"y":617,"c":3},{"x":723,"y":617,"c":3},{"x":741,"y":617,"c":3},{"x":759,"y":617,"c":4},{"x":795,"y":617,"c":4},{"x":813,"y":617,"c":1},{"x":850,"y":617,"c":3},{"x":886,"y":617,"c":1},{"x":904,"y":617,"c":1},
{"x":88,"y":598,"c":1},{"x":106,"y":598,"c":2},{"x":125,"y":598,"c":3},{"x":143,"y":598,"c":4},{"x":161,"y":598,"c":5},{"x":179,"y":598,"c":4},{"x":197,"y":598,"c":4},{"x":215,"y":598,"c":4},{"x":251,"y":598,"c":2},{"x":270,"y":598,"c":4},{"x":288,"y":598,"c":3},{"x":324,"y":598,"c":1},{"x":342,"y":598,"c":2},{"x":360,"y":598,"c":4},{"x":378,"y":598,"c":3},{"x":396,"y":598,"c":1},{"x":415,"y":598,"c":3},{"x":433,"y":598,"c":3},{"x":451,"y":598,"c":5},{"x":487,"y":598,"c":1},{"x":505,"y":598,"c":1},{"x":523,"y":598,"c":4},{"x":560,"y":598,"c":2},{"x":578,"y":598,"c":4},{"x":596,"y":598,"c":2},{"x":614,"y":598,"c":4},{"x":650,"y":598,"c":4},{"x":668,"y":598,"c":3},{"x":686,"y":598,"c":1},{"x":723,"y":598,"c":1},{"x":741,"y":598,"c":1},{"x":759,"y":598,"c":2},{"x":777,"y":598,"c":4},{"x":813,"y":598,"c":3},{"x":850,"y":598,"c":5},{"x":886,"y":598,"c":1},{"x":904,"y":598,"c":4},{"x":922,"y":598,"c":1},
{"x":70,"y":579,"c":2},{"x":88,"y":579,"c":1},{"x":106,"y":579,"c":1},{"x":125,"y":579,"c":1},{"x":143,"y":579,"c":4},{"x":161,"y":579,"c":3},{"x":179,"y":579,"c":3},{"x":197,"y":579,"c":3},{"x":215,"y":579,"c":2},{"x":233,"y":579,"c":2},{"x":251,"y":579,"c":5},{"x":270,"y":579,"c":1},{"x":288,"y":579,"c":2},{"x":306,"y":579,"c":3},{"x":324,"y":579,"c":3},{"x":378,"y":579,"c":1},{"x":396,"y":579,"c":1},{"x":415,"y":579,"c":1},{"x":433,"y":579,"c":1},{"x":505,"y":579,"c":1},{"x":541,"y":579,"c":2},{"x":560,"y":579,"c":2},{"x":578,"y":579,"c":3},{"x":596,"y":579,"c":2},{"x":614,"y":579,"c":1},{"x":632,"y":579,"c":4},{"x":668,"y":579,"c":2},{"x":686,"y":579,"c":4},{"x":705,"y":579,"c":2},{"x":723,"y":579,"c":3},{"x":759,"y":579,"c":2},{"x":777,"y":579,"c":3},{"x":795,"y":579,"c":2},{"x":813,"y":579,"c":1},{"x":831,"y":579,"c":1},{"x":850,"y":579,"c":2},{"x":904,"y":579,"c":3},{"x":922,"y":579,"c":2},{"x":940,"y":579,"c":1},
{"x":52,"y":559,"c":1},{"x":88,"y":559,"c":1},{"x":106,"y":559,"c":2},{"x":125,"y":559,"c":2},{"x":143,"y":559,"c":3},{"x":161,"y":559,"c":2},{"x":197,"y":559,"c":4},{"x":215,"y":559,"c":5},{"x":233,"y":559,"c":2},{"x":251,"y":559,"c":4},{"x":270,"y":559,"c":3},{"x":288,"y":559,"c":3},{"x":306,"y":559,"c":1},{"x":324,"y":559,"c":1},{"x":342,"y":559,"c":3},{"x":360,"y":559,"c":1},{"x":378,"y":559,"c":1},{"x":415,"y":559,"c":3},{"x":433,"y":559,"c":4},{"x":451,"y":559,"c":2},{"x":469,"y":559,"c":3},{"x":487,"y":559,"c":1},{"x":505,"y":559,"c":4},{"x":541,"y":559,"c":2},{"x":560,"y":559,"c":3},{"x":578,"y":559,"c":4},{"x":596,"y":559,"c":1},{"x":650,"y":559,"c":1},{"x":668,"y":559,"c":3},{"x":723,"y":559,"c":5},{"x":741,"y":559,"c":2},{"x":759,"y":559,"c":1},{"x":777,"y":559,"c":3},{"x":795,"y":559,"c":5},{"x":813,"y":559,"c":1},{"x":831,"y":559,"c":4},{"x":850,"y":559,"c":1},{"x":868,"y":559,"c":2},{"x":922,"y":559,"c":1},
{"x":88,"y":540,"c":1},{"x":106,"y":540,"c":3},{"x":125,"y":540,"c":4},{"x":143,"y":540,"c":3},{"x":161,"y":540,"c":1},{"x":179,"y":540,"c":4},{"x":197,"y":540,"c":3},{"x":215,"y":540,"c":2},{"x":233,"y":540,"c":1},{"x":251,"y":540,"c":1},{"x":270,"y":540,"c":2},{"x":288,"y":540,"c":1},{"x":306,"y":540,"c":1},{"x":324,"y":540,"c":2},{"x":342,"y":540,"c":3},{"x":360,"y":540,"c":4},{"x":378,"y":540,"c":1},{"x":415,"y":540,"c":2},{"x":433,"y":540,"c":4},{"x":469,"y":540,"c":1},{"x":487,"y":540,"c":2},{"x":505,"y":540,"c":1},{"x":523,"y":540,"c":5},{"x":560,"y":540,"c":3},{"x":614,"y":540,"c":1},{"x":632,"y":540,"c":1},{"x":650,"y":540,"c":3},{"x":668,"y":540,"c":4},{"x":686,"y":540,"c":1},{"x":705,"y":540,"c":2},{"x":723,"y":540,"c":3},{"x":741,"y":540,"c":2},{"x":759,"y":540,"c":2},{"x":777,"y":540,"c":1},{"x":795,"y":540,"c":1},{"x":813,"y":540,"c":3},{"x":831,"y":540,"c":2},{"x":850,"y":540,"c":1},{"x":886,"y":540,"c":1},
{"x":70,"y":521,"c":1},{"x":88,"y":521,"c":1},{"x":106,"y":521,"c":2},{"x":125,"y":521,"c":4},{"x":143,"y":521,"c":1},{"x":161,"y":521,"c":3},{"x":179,"y":521,"c":3},{"x":197,"y":521,"c":2},{"x":215,"y":521,"c":3},{"x":233,"y":521,"c":1},{"x":251,"y":521,"c":2},{"x":270,"y":521,"c":3},{"x":288,"y":521,"c":1},{"x":306,"y":521,"c":3},{"x":324,"y":521,"c":3},{"x":360,"y":521,"c":1},{"x":378,"y":521,"c":2},{"x":396,"y":521,"c":1},{"x":415,"y":521,"c":2},{"x":433,"y":521,"c":2},{"x":451,"y":521,"c":3},{"x":487,"y":521,"c":2},{"x":505,"y":521,"c":3},{"x":523,"y":521,"c":3},{"x":541,"y":521,"c":3},{"x":560,"y":521,"c":3},{"x":578,"y":521,"c":4},{"x":596,"y":521,"c":2},{"x":614,"y":521,"c":1},{"x":632,"y":521,"c":2},{"x":650,"y":521,"c":4},{"x":668,"y":521,"c":3},{"x":686,"y":521,"c":2},{"x":705,"y":521,"c":1},{"x":723,"y":521,"c":4},{"x":741,"y":521,"c":2},{"x":759,"y":521,"c":3},{"x":777,"y":521,"c":2},{"x":795,"y":521,"c":1},{"x":813,"y":521,"c":4},{"x":831,"y":521,"c":2},{"x":850,"y":521,"c":2},{"x":868,"y":521,"c":1},{"x":904,"y":521,"c":1},
{"x":52,"y":502,"c":2},{"x":70,"y":502,"c":1},{"x":88,"y":502,"c":1},{"x":106,"y":502,"c":1},{"x":143,"y":502,"c":3},{"x":161,"y":502,"c":4},{"x":179,"y":502,"c":1},{"x":215,"y":502,"c":1},{"x":233,"y":502,"c":2},{"x":251,"y":502,"c":3},{"x":270,"y":502,"c":1},{"x":288,"y":502,"c":4},{"x":324,"y":502,"c":1},{"x":342,"y":502,"c":4},{"x":360,"y":502,"c":2},{"x":378,"y":502,"c":3},{"x":396,"y":502,"c":3},{"x":415,"y":502,"c":1},{"x":469,"y":502,"c":1},{"x":505,"y":502,"c":1},{"x":523,"y":502,"c":2},{"x":541,"y":502,"c":1},{"x":560,"y":502,"c":1},{"x":578,"y":502,"c":4},{"x":596,"y":502,"c":1},{"x":614,"y":502,"c":1},{"x":668,"y":502,"c":4},{"x":686,"y":502,"c":4},{"x":705,"y":502,"c":1},{"x":723,"y":502,"c":5},{"x":759,"y":502,"c":1},{"x":777,"y":502,"c":1},{"x":813,"y":502,"c":1},{"x":831,"y":502,"c":4},{"x":850,"y":502,"c":3},{"x":868,"y":502,"c":2},
{"x":70,"y":483,"c":1},{"x":88,"y":483,"c":1},{"x":125,"y":483,"c":3},{"x":143,"y":483,"c":4},{"x":161,"y":483,"c":4},{"x":179,"y":483,"c":2},{"x":197,"y":483,"c":1},{"x":215,"y":483,"c":2},{"x":233,"y":483,"c":3},{"x":251,"y":483,"c":5},{"x":270,"y":483,"c":2},{"x":306,"y":483,"c":2},{"x":324,"y":483,"c":3},{"x":342,"y":483,"c":5},{"x":360,"y":483,"c":2},{"x":378,"y":483,"c":3},{"x":415,"y":483,"c":1},{"x":433,"y":483,"c":2},{"x":451,"y":483,"c":4},{"x":487,"y":483,"c":3},{"x":505,"y":483,"c":2},{"x":523,"y":483,"c":4},{"x":541,"y":483,"c":2},{"x":560,"y":483,"c":3},{"x":596,"y":483,"c":2},{"x":614,"y":483,"c":2},{"x":632,"y":483,"c":1},{"x":650,"y":483,"c":3},{"x":686,"y":483,"c":1},{"x":705,"y":483,"c":2},{"x":723,"y":483,"c":2},{"x":741,"y":483,"c":1},{"x":759,"y":483,"c":4},{"x":795,"y":483,"c":3},{"x":813,"y":483,"c":1},{"x":831,"y":483,"c":3},{"x":850,"y":483,"c":2},{"x":868,"y":483,"c":2},{"x":886,"y":483,"c":3},{"x":904,"y":483,"c":1},{"x":922,"y":483,"c":1},
{"x":52,"y":463,"c":1},{"x":70,"y":463,"c":2},{"x":125,"y":463,"c":2},{"x":143,"y":463,"c":2},{"x":161,"y":463,"c":2},{"x":179,"y":463,"c":1},{"x":197,"y":463,"c":3},{"x":215,"y":463,"c":1},{"x":233,"y":463,"c":3},{"x":251,"y":463,"c":1},{"x":270,"y":463,"c":4},{"x":288,"y":463,"c":3},{"x":306,"y":463,"c":1},{"x":324,"y":463,"c":1},{"x":342,"y":463,"c":2},{"x":360,"y":463,"c":1},{"x":396,"y":463,"c":1},{"x":415,"y":463,"c":2},{"x":433,"y":463,"c":1},{"x":451,"y":463,"c":1},{"x":469,"y":463,"c":1},{"x":505,"y":463,"c":2},{"x":523,"y":463,"c":5},{"x":560,"y":463,"c":3},{"x":578,"y":463,"c":4},{"x":596,"y":463,"c":3},{"x":650,"y":463,"c":3},{"x":668,"y":463,"c":2},{"x":686,"y":463,"c":3},{"x":723,"y":463,"c":2},{"x":741,"y":463,"c":1},{"x":759,"y":463,"c":3},{"x":795,"y":463,"c":2},{"x":813,"y":463,"c":2},{"x":850,"y":463,"c":1},{"x":868,"y":463,"c":4},
{"x":106,"y":444,"c":3},{"x":125,"y":444,"c":4},{"x":143,"y":444,"c":4},{"x":161,"y":444,"c":5},{"x":179,"y":444,"c":3},{"x":197,"y":444,"c":4},{"x":215,"y":444,"c":1},{"x":233,"y":444,"c":2},{"x":251,"y":444,"c":2},{"x":270,"y":444,"c":1},{"x":288,"y":444,"c":1},{"x":306,"y":444,"c":1},{"x":342,"y":444,"c":5},{"x":360,"y":444,"c":2},{"x":433,"y":444,"c":4},{"x":451,"y":444,"c":2},{"x":487,"y":444,"c":3},{"x":523,"y":444,"c":3},{"x":541,"y":444,"c":1},{"x":560,"y":444,"c":3},{"x":578,"y":444,"c":3},{"x":596,"y":444,"c":2},{"x":614,"y":444,"c":5},{"x":632,"y":444,"c":4},{"x":650,"y":444,"c":2},{"x":668,"y":444,"c":1},{"x":686,"y":444,"c":4},{"x":723,"y":444,"c":1},{"x":741,"y":444,"c":2},{"x":777,"y":444,"c":3},{"x":795,"y":444,"c":1},{"x":850,"y":444,"c":1},{"x":868,"y":444,"c":3},{"x":904,"y":444,"c":4},
{"x":52,"y":425,"c":1},{"x":70,"y":425,"c":1},{"x":88,"y":425,"c":1},{"x":106,"y":425,"c":2},{"x":125,"y":425,"c":3},{"x":143,"y":425,"c":4},{"x":161,"y":425,"c":4},{"x":179,"y":425,"c":2},{"x":197,"y":425,"c":1},{"x":215,"y":425,"c":2},{"x":233,"y":425,"c":3},{"x":251,"y":425,"c":2},{"x":270,"y":425,"c":2},{"x":288,"y":425,"c":2},{"x":306,"y":425,"c":2},{"x":324,"y":425,"c":2},{"x":342,"y":425,"c":3},{"x":360,"y":425,"c":2},{"x":378,"y":425,"c":3},{"x":396,"y":425,"c":2},{"x":415,"y":425,"c":2},{"x":433,"y":425,"c":3},{"x":451,"y":425,"c":1},{"x":469,"y":425,"c":1},{"x":505,"y":425,"c":3},{"x":523,"y":425,"c":1},{"x":541,"y":425,"c":2},{"x":560,"y":425,"c":2},{"x":596,"y":425,"c":3},{"x":614,"y":425,"c":2},{"x":632,"y":425,"c":5},{"x":650,"y":425,"c":4},{"x":668,"y":425,"c":2},{"x":686,"y":425,"c":2},{"x":723,"y":425,"c":4},{"x":741,"y":425,"c":3},{"x":759,"y":425,"c":1},{"x":795,"y":425,"c":1},{"x":850,"y":425,"c":1},
{"x":52,"y":406,"c":1},{"x":70,"y":406,"c":2},{"x":88,"y":406,"c":1},{"x":125,"y":406,"c":5},{"x":143,"y":406,"c":4},{"x":161,"y":406,"c":4},{"x":179,"y":406,"c":2},{"x":197,"y":406,"c":1},{"x":215,"y":406,"c":3},{"x":233,"y":406,"c":3},{"x":251,"y":406,"c":5},{"x":270,"y":406,"c":2},{"x":288,"y":406,"c":3},{"x":306,"y":406,"c":4},{"x":324,"y":406,"c":3},{"x":342,"y":406,"c":1},{"x":360,"y":406,"c":3},{"x":378,"y":406,"c":1},{"x":396,"y":406,"c":1},{"x":433,"y":406,"c":3},{"x":451,"y":406,"c":2},{"x":487,"y":406,"c":2},{"x":505,"y":406,"c":3},{"x":523,"y":406,"c":2},{"x":541,"y":406,"c":1},{"x":560,"y":406,"c":3},{"x":578,"y":406,"c":4},{"x":596,"y":406,"c":1},{"x":614,"y":406,"c":2},{"x":632,"y":406,"c":1},{"x":650,"y":406,"c":1},{"x":668,"y":406,"c":2},{"x":705,"y":406,"c":1},{"x":723,"y":406,"c":4},{"x":741,"y":406,"c":2},{"x":759,"y":406,"c":2},{"x":795,"y":406,"c":3},{"x":813,"y":406,"c":3},{"x":850,"y":406,"c":1},{"x":886,"y":406,"c":1},
{"x":70,"y":387,"c":1},{"x":88,"y":387,"c":4},{"x":125,"y":387,"c":4},{"x":143,"y":387,"c":3},{"x":161,"y":387,"c":3},{"x":179,"y":387,"c":3},{"x":197,"y":387,"c":3},{"x":215,"y":387,"c":5},{"x":233,"y":387,"c":5},{"x":251,"y":387,"c":2},{"x":270,"y":387,"c":2},{"x":288,"y":387,"c":1},{"x":306,"y":387,"c":5},{"x":324,"y":387,"c":2},{"x":342,"y":387,"c":4},{"x":360,"y":387,"c":3},{"x":378,"y":387,"c":4},{"x":433,"y":387,"c":2},{"x":451,"y":387,"c":1},{"x":469,"y":387,"c":3},{"x":487,"y":387,"c":3},{"x":523,"y":387,"c":1},{"x":541,"y":387,"c":4},{"x":560,"y":387,"c":1},{"x":596,"y":387,"c":3},{"x":614,"y":387,"c":2},{"x":632,"y":387,"c":5},{"x":650,"y":387,"c":4},{"x":668,"y":387,"c":2},{"x":686,"y":387,"c":1},{"x":705,"y":387,"c":5},{"x":741,"y":387,"c":1},{"x":759,"y":387,"c":3},{"x":777,"y":387,"c":3},{"x":795,"y":387,"c":3},{"x":813,"y":387,"c":4},{"x":831,"y":387,"c":2},{"x":850,"y":387,"c":3},{"x":868,"y":387,"c":1},{"x":886,"y":387,"c":1},{"x":904,"y":387,"c":1},{"x":922,"y":387,"c":1},
{"x":52,"y":367,"c":2},{"x":88,"y":367,"c":1},{"x":106,"y":367,"c":1},{"x":125,"y":367,"c":2},{"x":143,"y":367,"c":3},{"x":161,"y":367,"c":1},{"x":179,"y":367,"c":1},{"x":197,"y":367,"c":2},{"x":215,"y":367,"c":2},{"x":233,"y":367,"c":3},{"x":251,"y":367,"c":5},{"x":270,"y":367,"c":3},{"x":306,"y":367,"c":3},{"x":396,"y":367,"c":2},{"x":415,"y":367,"c":2},{"x":433,"y":367,"c":3},{"x":451,"y":367,"c":2},{"x":487,"y":367,"c":1},{"x":523,"y":367,"c":1},{"x":560,"y":367,"c":3},{"x":578,"y":367,"c":3},{"x":596,"y":367,"c":5},{"x":632,"y":367,"c":3},{"x":650,"y":367,"c":3},{"x":668,"y":367,"c":1},{"x":705,"y":367,"c":2},{"x":723,"y":367,"c":4},{"x":741,"y":367,"c":1},{"x":777,"y":367,"c":2},{"x":795,"y":367,"c":4},{"x":813,"y":367,"c":1},{"x":831,"y":367,"c":4},{"x":850,"y":367,"c":1},{"x":868,"y":367,"c":2},{"x":904,"y":367,"c":3},
{"x":52,"y":348,"c":1},{"x":70,"y":348,"c":1},{"x":106,"y":348,"c":4},{"x":143,"y":348,"c":2},{"x":161,"y":348,"c":2},{"x":179,"y":348,"c":4},{"x":197,"y":348,"c":1},{"x":215,"y":348,"c":4},{"x":233,"y":348,"c":4},{"x":251,"y":348,"c":3},{"x":270,"y":348,"c":5},{"x":288,"y":348,"c":2},{"x":306,"y":348,"c":3},{"x":342,"y":348,"c":2},{"x":360,"y":348,"c":1},{"x":433,"y":348,"c":1},{"x":451,"y":348,"c":1},{"x":469,"y":348,"c":1},{"x":487,"y":348,"c":4},{"x":505,"y":348,"c":2},{"x":523,"y":348,"c":1},{"x":541,"y":348,"c":2},{"x":560,"y":348,"c":2},{"x":578,"y":348,"c":2},{"x":596,"y":348,"c":4},{"x":614,"y":348,"c":3},{"x":650,"y":348,"c":2},{"x":668,"y":348,"c":3},{"x":686,"y":348,"c":3},{"x":705,"y":348,"c":1},{"x":723,"y":348,"c":3},{"x":741,"y":348,"c":2},{"x":759,"y":348,"c":2},{"x":777,"y":348,"c":2},{"x":795,"y":348,"c":4},{"x":813,"y":348,"c":2},{"x":831,"y":348,"c":3},{"x":868,"y":348,"c":1},
{"x":70,"y":329,"c":1},{"x":106,"y":329,"c":2},{"x":125,"y":329,"c":4},{"x":143,"y":329,"c":1},{"x":161,"y":329,"c":4},{"x":179,"y":329,"c":3},{"x":197,"y":329,"c":2},{"x":215,"y":329,"c":3},{"x":233,"y":329,"c":3},{"x":251,"y":329,"c":4},{"x":270,"y":329,"c":2},{"x":306,"y":329,"c":4},{"x":378,"y":329,"c":1},{"x":396,"y":329,"c":2},{"x":415,"y":329,"c":4},{"x":433,"y":329,"c":3},{"x":469,"y":329,"c":2},{"x":487,"y":329,"c":2},{"x":523,"y":329,"c":1},{"x":578,"y":329,"c":1},{"x":596,"y":329,"c":1},{"x":632,"y":329,"c":3},{"x":650,"y":329,"c":3},{"x":668,"y":329,"c":1},{"x":686,"y":329,"c":3},{"x":705,"y":329,"c":1},{"x":723,"y":329,"c":1},{"x":741,"y":329,"c":1},{"x":759,"y":329,"c":4},{"x":777,"y":329,"c":2},{"x":795,"y":329,"c":1},{"x":813,"y":329,"c":2},{"x":831,"y":329,"c":1},{"x":850,"y":329,"c":1},{"x":904,"y":329,"c":1},
{"x":52,"y":310,"c":2},{"x":88,"y":310,"c":2},{"x":106,"y":310,"c":4},{"x":125,"y":310,"c":4},{"x":143,"y":310,"c":4},{"x":179,"y":310,"c":1},{"x":197,"y":310,"c":3},{"x":233,"y":310,"c":3},{"x":251,"y":310,"c":2},{"x":270,"y":310,"c":4},{"x":288,"y":310,"c":4},{"x":306,"y":310,"c":2},{"x":324,"y":310,"c":1},{"x":378,"y":310,"c":3},{"x":415,"y":310,"c":3},{"x":433,"y":310,"c":3},{"x":451,"y":310,"c":1},{"x":469,"y":310,"c":3},{"x":487,"y":310,"c":1},{"x":505,"y":310,"c":1},{"x":523,"y":310,"c":2},{"x":541,"y":310,"c":3},{"x":560,"y":310,"c":3},{"x":578,"y":310,"c":1},{"x":596,"y":310,"c":4},{"x":614,"y":310,"c":4},{"x":650,"y":310,"c":3},{"x":668,"y":310,"c":2},{"x":686,"y":310,"c":2},{"x":705,"y":310,"c":2},{"x":723,"y":310,"c":4},{"x":741,"y":310,"c":2},{"x":759,"y":310,"c":2},{"x":777,"y":310,"c":1},{"x":795,"y":310,"c":1},{"x":831,"y":310,"c":3},{"x":850,"y":310,"c":2},{"x":868,"y":310,"c":2},{"x":886,"y":310,"c":2},{"x":904,"y":310,"c":1},{"x":922,"y":310,"c":1},{"x":940,"y":310,"c":1},
{"x":70,"y":291,"c":1},{"x":106,"y":291,"c":3},{"x":125,"y":291,"c":2},{"x":143,"y":291,"c":2},{"x":161,"y":291,"c":3},{"x":179,"y":291,"c":2},{"x":197,"y":291,"c":3},{"x":215,"y":291,"c":2},{"x":233,"y":291,"c":5},{"x":251,"y":291,"c":4},{"x":270,"y":291,"c":3},{"x":288,"y":291,"c":1},{"x":306,"y":291,"c":3},{"x":324,"y":291,"c":3},{"x":342,"y":291,"c":1},{"x":360,"y":291,"c":1},{"x":378,"y":291,"c":5},{"x":415,"y":291,"c":2},{"x":433,"y":291,"c":1},{"x":469,"y":291,"c":3},{"x":487,"y":291,"c":1},{"x":505,"y":291,"c":1},{"x":541,"y":291,"c":2},{"x":578,"y":291,"c":1},{"x":596,"y":291,"c":4},{"x":614,"y":291,"c":5},{"x":632,"y":291,"c":4},{"x":650,"y":291,"c":2},{"x":668,"y":291,"c":2},{"x":686,"y":291,"c":4},{"x":705,"y":291,"c":1},{"x":741,"y":291,"c":3},{"x":759,"y":291,"c":3},{"x":777,"y":291,"c":3},{"x":795,"y":291,"c":4},{"x":813,"y":291,"c":1},{"x":831,"y":291,"c":5},{"x":850,"y":291,"c":4},{"x":886,"y":291,"c":3},{"x":904,"y":291,"c":4},
{"x":70,"y":271,"c":1},{"x":88,"y":271,"c":1},{"x":106,"y":271,"c":1},{"x":125,"y":271,"c":2},{"x":143,"y":271,"c":2},{"x":161,"y":271,"c":3},{"x":197,"y":271,"c":2},{"x":215,"y":271,"c":3},{"x":233,"y":271,"c":4},{"x":251,"y":271,"c":5},{"x":270,"y":271,"c":1},{"x":288,"y":271,"c":4},{"x":306,"y":271,"c":2},{"x":324,"y":271,"c":3},{"x":342,"y":271,"c":1},{"x":360,"y":271,"c":3},{"x":378,"y":271,"c":5},{"x":396,"y":271,"c":2},{"x":415,"y":271,"c":2},{"x":433,"y":271,"c":2},{"x":451,"y":271,"c":1},{"x":469,"y":271,"c":3},{"x":487,"y":271,"c":2},{"x":505,"y":271,"c":3},{"x":560,"y":271,"c":2},{"x":596,"y":271,"c":3},{"x":614,"y":271,"c":2},{"x":632,"y":271,"c":1},{"x":650,"y":271,"c":4},{"x":668,"y":271,"c":2},{"x":686,"y":271,"c":2},{"x":705,"y":271,"c":2},{"x":723,"y":271,"c":1},{"x":741,"y":271,"c":3},{"x":759,"y":271,"c":2},{"x":777,"y":271,"c":4},{"x":795,"y":271,"c":2},{"x":831,"y":271,"c":2},{"x":850,"y":271,"c":4},{"x":868,"y":271,"c":3},{"x":886,"y":271,"c":2},
{"x":52,"y":252,"c":3},{"x":88,"y":252,"c":4},{"x":106,"y":252,"c":3},{"x":125,"y":252,"c":3},{"x":143,"y":252,"c":4},{"x":161,"y":252,"c":2},{"x":179,"y":252,"c":1},{"x":215,"y":252,"c":2},{"x":233,"y":252,"c":4},{"x":251,"y":252,"c":5},{"x":288,"y":252,"c":3},{"x":306,"y":252,"c":1},{"x":324,"y":252,"c":1},{"x":342,"y":252,"c":2},{"x":360,"y":252,"c":2},{"x":396,"y":252,"c":1},{"x":415,"y":252,"c":1},{"x":451,"y":252,"c":2},{"x":487,"y":252,"c":1},{"x":523,"y":252,"c":2},{"x":541,"y":252,"c":4},{"x":560,"y":252,"c":1},{"x":596,"y":252,"c":3},{"x":614,"y":252,"c":2},{"x":632,"y":252,"c":5},{"x":668,"y":252,"c":2},{"x":686,"y":252,"c":4},{"x":705,"y":252,"c":1},{"x":723,"y":252,"c":1},{"x":777,"y":252,"c":1},{"x":795,"y":252,"c":1},{"x":813,"y":252,"c":4},{"x":831,"y":252,"c":2},{"x":850,"y":252,"c":1},{"x":868,"y":252,"c":4},{"x":886,"y":252,"c":3},{"x":904,"y":252,"c":4},
{"x":70,"y":233,"c":2},{"x":88,"y":233,"c":2},{"x":106,"y":233,"c":2},{"x":125,"y":233,"c":1},{"x":143,"y":233,"c":5},{"x":161,"y":233,"c":1},{"x":179,"y":233,"c":2},{"x":197,"y":233,"c":3},{"x":215,"y":233,"c":3},{"x":233,"y":233,"c":1},{"x":251,"y":233,"c":3},{"x":270,"y":233,"c":4},{"x":288,"y":233,"c":3},{"x":306,"y":233,"c":3},{"x":324,"y":233,"c":5},{"x":378,"y":233,"c":1},{"x":396,"y":233,"c":5},{"x":415,"y":233,"c":2},{"x":433,"y":233,"c":2},{"x":451,"y":233,"c":2},{"x":469,"y":233,"c":1},{"x":505,"y":233,"c":3},{"x":541,"y":233,"c":3},{"x":560,"y":233,"c":4},{"x":578,"y":233,"c":1},{"x":614,"y":233,"c":5},{"x":686,"y":233,"c":5},{"x":705,"y":233,"c":3},{"x":723,"y":233,"c":2},{"x":741,"y":233,"c":1},{"x":759,"y":233,"c":2},{"x":777,"y":233,"c":4},{"x":795,"y":233,"c":1},{"x":813,"y":233,"c":2},{"x":831,"y":233,"c":4},{"x":868,"y":233,"c":1},{"x":886,"y":233,"c":3},{"x":904,"y":233,"c":1},{"x":922,"y":233,"c":1},{"x":940,"y":233,"c":1},
{"x":70,"y":214,"c":2},{"x":88,"y":214,"c":1},{"x":106,"y":214,"c":2},{"x":143,"y":214,"c":5},{"x":161,"y":214,"c":1},{"x":179,"y":214,"c":1},{"x":197,"y":214,"c":1},{"x":215,"y":214,"c":1},{"x":233,"y":214,"c":4},{"x":251,"y":214,"c":3},{"x":270,"y":214,"c":1},{"x":288,"y":214,"c":3},{"x":306,"y":214,"c":3},{"x":324,"y":214,"c":4},{"x":342,"y":214,"c":4},{"x":360,"y":214,"c":1},{"x":378,"y":214,"c":3},{"x":396,"y":214,"c":5},{"x":415,"y":214,"c":3},{"x":451,"y":214,"c":2},{"x":469,"y":214,"c":1},{"x":487,"y":214,"c":1},{"x":523,"y":214,"c":3},{"x":541,"y":214,"c":1},{"x":560,"y":214,"c":4},{"x":578,"y":214,"c":1},{"x":596,"y":214,"c":4},{"x":614,"y":214,"c":2},{"x":650,"y":214,"c":1},{"x":668,"y":214,"c":2},{"x":686,"y":214,"c":3},{"x":705,"y":214,"c":3},{"x":723,"y":214,"c":1},{"x":741,"y":214,"c":3},{"x":759,"y":214,"c":2},{"x":777,"y":214,"c":3},{"x":795,"y":214,"c":3},{"x":813,"y":214,"c":4},{"x":868,"y":214,"c":2},{"x":886,"y":214,"c":1},{"x":904,"y":214,"c":2},
{"x":52,"y":195,"c":2},{"x":70,"y":195,"c":1},{"x":106,"y":195,"c":1},{"x":143,"y":195,"c":5},{"x":179,"y":195,"c":3},{"x":197,"y":195,"c":5},{"x":215,"y":195,"c":2},{"x":233,"y":195,"c":4},{"x":251,"y":195,"c":3},{"x":270,"y":195,"c":4},{"x":306,"y":195,"c":2},{"x":324,"y":195,"c":2},{"x":342,"y":195,"c":2},{"x":378,"y":195,"c":3},{"x":396,"y":195,"c":1},{"x":415,"y":195,"c":3},{"x":451,"y":195,"c":2},{"x":523,"y":195,"c":3},{"x":541,"y":195,"c":2},{"x":578,"y":195,"c":3},{"x":614,"y":195,"c":4},{"x":632,"y":195,"c":2},{"x":650,"y":195,"c":2},{"x":668,"y":195,"c":4},{"x":686,"y":195,"c":3},{"x":705,"y":195,"c":3},{"x":741,"y":195,"c":2},{"x":759,"y":195,"c":1},{"x":777,"y":195,"c":1},{"x":813,"y":195,"c":1},{"x":831,"y":195,"c":3},{"x":850,"y":195,"c":4},{"x":868,"y":195,"c":1},{"x":886,"y":195,"c":1},{"x":904,"y":195,"c":1},
{"x":70,"y":176,"c":1},{"x":88,"y":176,"c":1},{"x":106,"y":176,"c":2},{"x":125,"y":176,"c":3},{"x":143,"y":176,"c":5},{"x":161,"y":176,"c":2},{"x":179,"y":176,"c":2},{"x":197,"y":176,"c":1},{"x":215,"y":176,"c":4},{"x":251,"y":176,"c":2},{"x":270,"y":176,"c":1},{"x":288,"y":176,"c":2},{"x":306,"y":176,"c":2},{"x":324,"y":176,"c":1},{"x":360,"y":176,"c":1},{"x":378,"y":176,"c":3},{"x":396,"y":176,"c":1},{"x":415,"y":176,"c":3},{"x":433,"y":176,"c":3},{"x":469,"y":176,"c":1},{"x":523,"y":176,"c":4},{"x":560,"y":176,"c":2},{"x":578,"y":176,"c":1},{"x":614,"y":176,"c":4},{"x":632,"y":176,"c":2},{"x":650,"y":176,"c":1},{"x":686,"y":176,"c":3},{"x":723,"y":176,"c":3},{"x":741,"y":176,"c":3},{"x":759,"y":176,"c":1},{"x":777,"y":176,"c":4},{"x":795,"y":176,"c":1},{"x":813,"y":176,"c":3},{"x":831,"y":176,"c":3},{"x":868,"y":176,"c":1},
{"x":70,"y":156,"c":2},{"x":88,"y":156,"c":4},{"x":106,"y":156,"c":3},{"x":125,"y":156,"c":4},{"x":143,"y":156,"c":1},{"x":179,"y":156,"c":2},{"x":197,"y":156,"c":1},{"x":215,"y":156,"c":5},{"x":233,"y":156,"c":3},{"x":251,"y":156,"c":4},{"x":270,"y":156,"c":3},{"x":288,"y":156,"c":2},{"x":306,"y":156,"c":4},{"x":324,"y":156,"c":2},{"x":342,"y":156,"c":3},{"x":378,"y":156,"c":2},{"x":396,"y":156,"c":2},{"x":415,"y":156,"c":1},{"x":433,"y":156,"c":2},{"x":451,"y":156,"c":1},{"x":469,"y":156,"c":1},{"x":505,"y":156,"c":1},{"x":523,"y":156,"c":4},{"x":541,"y":156,"c":4},{"x":560,"y":156,"c":3},{"x":578,"y":156,"c":1},{"x":596,"y":156,"c":5},{"x":614,"y":156,"c":3},{"x":650,"y":156,"c":1},{"x":668,"y":156,"c":1},{"x":686,"y":156,"c":1},{"x":705,"y":156,"c":2},{"x":723,"y":156,"c":2},{"x":741,"y":156,"c":2},{"x":759,"y":156,"c":3},{"x":777,"y":156,"c":2},{"x":795,"y":156,"c":1},{"x":813,"y":156,"c":4},{"x":850,"y":156,"c":4},{"x":868,"y":156,"c":1},{"x":940,"y":156,"c":1},
{"x":52,"y":137,"c":1},{"x":70,"y":137,"c":3},{"x":88,"y":137,"c":1},{"x":106,"y":137,"c":4},{"x":125,"y":137,"c":4},{"x":143,"y":137,"c":5},{"x":179,"y":137,"c":4},{"x":197,"y":137,"c":3},{"x":215,"y":137,"c":4},{"x":233,"y":137,"c":4},{"x":251,"y":137,"c":4},{"x":270,"y":137,"c":2},{"x":288,"y":137,"c":1},{"x":306,"y":137,"c":2},{"x":324,"y":137,"c":2},{"x":342,"y":137,"c":3},{"x":360,"y":137,"c":1},{"x":378,"y":137,"c":3},{"x":396,"y":137,"c":4},{"x":415,"y":137,"c":3},{"x":451,"y":137,"c":1},{"x":469,"y":137,"c":1},{"x":523,"y":137,"c":1},{"x":541,"y":137,"c":4},{"x":560,"y":137,"c":3},{"x":578,"y":137,"c":5},{"x":614,"y":137,"c":1},{"x":632,"y":137,"c":1},{"x":668,"y":137,"c":4},{"x":686,"y":137,"c":2},{"x":705,"y":137,"c":4},{"x":723,"y":137,"c":3},{"x":759,"y":137,"c":1},{"x":777,"y":137,"c":1},{"x":795,"y":137,"c":4},{"x":813,"y":137,"c":4},{"x":831,"y":137,"c":1},{"x":850,"y":137,"c":5},{"x":886,"y":137,"c":1},{"x":922,"y":137,"c":1},
{"x":88,"y":118,"c":1},{"x":106,"y":118,"c":1},{"x":125,"y":118,"c":1},{"x":143,"y":118,"c":5},{"x":161,"y":118,"c":2},{"x":179,"y":118,"c":2},{"x":197,"y":118,"c":1},{"x":215,"y":118,"c":5},{"x":233,"y":118,"c":1},{"x":251,"y":118,"c":2},{"x":270,"y":118,"c":5},{"x":288,"y":118,"c":2},{"x":306,"y":118,"c":4},{"x":360,"y":118,"c":1},{"x":378,"y":118,"c":2},{"x":415,"y":118,"c":2},{"x":433,"y":118,"c":4},{"x":451,"y":118,"c":1},{"x":487,"y":118,"c":1},{"x":505,"y":118,"c":2},{"x":523,"y":118,"c":4},{"x":541,"y":118,"c":1},{"x":560,"y":118,"c":1},{"x":578,"y":118,"c":3},{"x":614,"y":118,"c":2},{"x":632,"y":118,"c":1},{"x":650,"y":118,"c":3},{"x":668,"y":118,"c":4},{"x":686,"y":118,"c":1},{"x":723,"y":118,"c":2},{"x":741,"y":118,"c":2},{"x":759,"y":118,"c":1},{"x":795,"y":118,"c":3},{"x":813,"y":118,"c":3},{"x":831,"y":118,"c":3},{"x":850,"y":118,"c":2},{"x":868,"y":118,"c":2},{"x":886,"y":118,"c":1},
{"x":52,"y":99,"c":4},{"x":70,"y":99,"c":4},{"x":88,"y":99,"c":1},{"x":106,"y":99,"c":1},{"x":125,"y":99,"c":4},{"x":143,"y":99,"c":2},{"x":161,"y":99,"c":3},{"x":197,"y":99,"c":3},{"x":215,"y":99,"c":5},{"x":233,"y":99,"c":2},{"x":251,"y":99,"c":2},{"x":270,"y":99,"c":3},{"x":288,"y":99,"c":3},{"x":306,"y":99,"c":4},{"x":324,"y":99,"c":5},{"x":360,"y":99,"c":1},{"x":378,"y":99,"c":3},{"x":396,"y":99,"c":3},{"x":415,"y":99,"c":1},{"x":433,"y":99,"c":2},{"x":487,"y":99,"c":1},{"x":505,"y":99,"c":2},{"x":523,"y":99,"c":4},{"x":541,"y":99,"c":2},{"x":560,"y":99,"c":1},{"x":578,"y":99,"c":2},{"x":596,"y":99,"c":1},{"x":614,"y":99,"c":1},{"x":632,"y":99,"c":1},{"x":650,"y":99,"c":3},{"x":668,"y":99,"c":1},{"x":686,"y":99,"c":1},{"x":723,"y":99,"c":4},{"x":741,"y":99,"c":1},{"x":777,"y":99,"c":1},{"x":795,"y":99,"c":5},{"x":831,"y":99,"c":4},{"x":868,"y":99,"c":1},{"x":886,"y":99,"c":1},{"x":922,"y":99,"c":1},
{"x":52,"y":80,"c":1},{"x":88,"y":80,"c":1},{"x":125,"y":80,"c":1},{"x":143,"y":80,"c":5},{"x":161,"y":80,"c":2},{"x":179,"y":80,"c":1},{"x":197,"y":80,"c":4},{"x":215,"y":80,"c":2},{"x":233,"y":80,"c":5},{"x":251,"y":80,"c":2},{"x":270,"y":80,"c":3},{"x":288,"y":80,"c":3},{"x":324,"y":80,"c":1},{"x":342,"y":80,"c":5},{"x":360,"y":80,"c":1},{"x":378,"y":80,"c":2},{"x":396,"y":80,"c":2},{"x":415,"y":80,"c":2},{"x":433,"y":80,"c":3},{"x":469,"y":80,"c":1},{"x":487,"y":80,"c":4},{"x":505,"y":80,"c":5},{"x":523,"y":80,"c":5},{"x":541,"y":80,"c":4},{"x":560,"y":80,"c":5},{"x":578,"y":80,"c":2},{"x":596,"y":80,"c":2},{"x":614,"y":80,"c":4},{"x":650,"y":80,"c":1},{"x":668,"y":80,"c":1},{"x":686,"y":80,"c":3},{"x":705,"y":80,"c":1},{"x":741,"y":80,"c":4},{"x":777,"y":80,"c":4},{"x":795,"y":80,"c":2},{"x":813,"y":80,"c":4},{"x":831,"y":80,"c":2},{"x":850,"y":80,"c":3},{"x":868,"y":80,"c":1},{"x":886,"y":80,"c":2},{"x":904,"y":80,"c":1},{"x":922,"y":80,"c":2},
{"x":52,"y":60,"c":1},{"x":70,"y":60,"c":2},{"x":106,"y":60,"c":3},{"x":125,"y":60,"c":2},{"x":143,"y":60,"c":3},{"x":161,"y":60,"c":5},{"x":197,"y":60,"c":5},{"x":215,"y":60,"c":4},{"x":233,"y":60,"c":2},{"x":251,"y":60,"c":4},{"x":270,"y":60,"c":3},{"x":306,"y":60,"c":1},{"x":324,"y":60,"c":2},{"x":342,"y":60,"c":1},{"x":360,"y":60,"c":2},{"x":378,"y":60,"c":3},{"x":396,"y":60,"c":2},{"x":433,"y":60,"c":2},{"x":451,"y":60,"c":2},{"x":469,"y":60,"c":2},{"x":487,"y":60,"c":3},{"x":505,"y":60,"c":3},{"x":523,"y":60,"c":3},{"x":541,"y":60,"c":2},{"x":560,"y":60,"c":2},{"x":596,"y":60,"c":2},{"x":614,"y":60,"c":1},{"x":632,"y":60,"c":1},{"x":668,"y":60,"c":2},{"x":686,"y":60,"c":3},{"x":723,"y":60,"c":1},{"x":741,"y":60,"c":2},{"x":777,"y":60,"c":2},{"x":795,"y":60,"c":4},{"x":813,"y":60,"c":3},{"x":831,"y":60,"c":2},{"x":850,"y":60,"c":4},{"x":904,"y":60,"c":1},
{"x":70,"y":41,"c":2},{"x":88,"y":41,"c":1},{"x":106,"y":41,"c":1},{"x":125,"y":41,"c":3},{"x":143,"y":41,"c":4},{"x":215,"y":41,"c":2},{"x":233,"y":41,"c":1},{"x":251,"y":41,"c":2},{"x":288,"y":41,"c":2},{"x":306,"y":41,"c":2},{"x":360,"y":41,"c":4},{"x":396,"y":41,"c":2},{"x":415,"y":41,"c":2},{"x":433,"y":41,"c":2},{"x":451,"y":41,"c":2},{"x":469,"y":41,"c":2},{"x":487,"y":41,"c":1},{"x":505,"y":41,"c":1},{"x":523,"y":41,"c":4},{"x":541,"y":41,"c":2},{"x":560,"y":41,"c":2},{"x":578,"y":41,"c":2},{"x":632,"y":41,"c":2},{"x":668,"y":41,"c":1},{"x":705,"y":41,"c":1},{"x":723,"y":41,"c":1},{"x":759,"y":41,"c":1},{"x":795,"y":41,"c":3},{"x":813,"y":41,"c":4},{"x":850,"y":41,"c":2},{"x":868,"y":41,"c":1},
{"x":52,"y":22,"c":1},{"x":70,"y":22,"c":1},{"x":88,"y":22,"c":2},{"x":106,"y":22,"c":1},{"x":125,"y":22,"c":2},{"x":233,"y":22,"c":1},{"x":306,"y":22,"c":1},{"x":324,"y":22,"c":1},{"x":469,"y":22,"c":1},{"x":541,"y":22,"c":1},{"x":614,"y":22,"c":2},{"x":668,"y":22,"c":1},{"x":686,"y":22,"c":1},{"x":741,"y":22,"c":1},{"x":777,"y":22,"c":1},{"x":813,"y":22,"c":1},{"x":850,"y":22,"c":2},{"x":904,"y":22,"c":1},{"x":922,"y":22,"c":1}
]},"mark":{"type":"rect","width":11.6,"height":11.3},"encoding":{"x":{"field":"x","type":"quantitative","title":"x","scale":{"domain":[0,1000],"nice":false,"zero":false},"axis":{"values":[0,200,400,600,800],"labelExpr":"format(datum.value/1000,'.1f')","titlePadding":9,"titleX":312}},"y":{"field":"y","type":"quantitative","title":"y","scale":{"domain":[-35.6,1023],"nice":false,"zero":false},"axis":{"values":[0,200,400,600,800,1000],"labelExpr":"format(datum.value/1000,'.1f')","labelPadding":12,"titlePadding":10}},"color":{"field":"c","type":"ordinal","legend":null,"scale":{"domain":[1,2,3,4,5],"range":["#7FB4F2","#36A2F6","#2E8BD9","#3877B5","#3C5C8B"]}}}},
{"data":{"values":[{"t":"مستقل","x":1025,"y":-90}]},"mark":{"type":"text","font":"DejaVu Sans","fontWeight":"bold","fontSize":54,"color":"#e8e8e8","baseline":"middle"},"encoding":{"x":{"field":"x","type":"quantitative"},"y":{"field":"y","type":"quantitative"},"text":{"field":"t"}}},
{"data":{"values":[{"t":"mostaql.com","x":1025,"y":-160}]},"mark":{"type":"text","font":"Liberation Sans","fontWeight":"bold","fontSize":32,"color":"#e8e8e8","baseline":"middle"},"encoding":{"x":{"field":"x","type":"quantitative"},"y":{"field":"y","type":"quantitative"},"text":{"field":"t"}}}
]},
{"width":631,"height":612,"data":{"values":[
{"x":159,"y":492,"c":1},{"x":159,"y":482,"c":1},{"x":328,"y":482,"c":1},{"x":159,"y":473,"c":1},{"x":309,"y":473,"c":1},{"x":178,"y":453,"c":1},{"x":196,"y":444,"c":1},{"x":159,"y":434,"c":1},{"x":159,"y":424,"c":1},{"x":178,"y":424,"c":1},{"x":290,"y":424,"c":1},{"x":421,"y":424,"c":1},{"x":889,"y":424,"c":1},{"x":271,"y":415,"c":1},{"x":271,"y":405,"c":1},{"x":178,"y":405,"c":1},{"x":402,"y":405,"c":1},{"x":421,"y":396,"c":1},{"x":159,"y":386,"c":1},{"x":178,"y":386,"c":1},{"x":196,"y":386,"c":1},{"x":758,"y":386,"c":1},{"x":159,"y":376,"c":1},{"x":178,"y":376,"c":1},{"x":196,"y":376,"c":1},{"x":159,"y":357,"c":1},{"x":178,"y":357,"c":1},{"x":402,"y":357,"c":1},{"x":421,"y":357,"c":1},{"x":196,"y":347,"c":1},{"x":402,"y":347,"c":1},{"x":159,"y":328,"c":1},{"x":271,"y":319,"c":1},
{"x":140,"y":309,"c":1},{"x":159,"y":309,"c":1},{"x":196,"y":309,"c":1},{"x":215,"y":309,"c":1},{"x":309,"y":309,"c":1},{"x":140,"y":299,"c":1},{"x":159,"y":299,"c":1},{"x":346,"y":299,"c":1},{"x":140,"y":290,"c":1},{"x":159,"y":290,"c":1},{"x":178,"y":290,"c":1},{"x":196,"y":290,"c":1},{"x":309,"y":290,"c":1},{"x":514,"y":290,"c":1},{"x":140,"y":280,"c":1},{"x":159,"y":280,"c":1},{"x":178,"y":280,"c":1},{"x":196,"y":280,"c":1},{"x":234,"y":280,"c":1},{"x":421,"y":280,"c":1},{"x":739,"y":280,"c":1},{"x":178,"y":270,"c":1},{"x":196,"y":270,"c":1},{"x":215,"y":270,"c":1},{"x":328,"y":270,"c":1},{"x":421,"y":270,"c":1},{"x":533,"y":270,"c":1},{"x":159,"y":261,"c":1},{"x":178,"y":261,"c":1},{"x":196,"y":261,"c":1},{"x":215,"y":261,"c":1},{"x":122,"y":251,"c":1},{"x":140,"y":251,"c":1},{"x":178,"y":251,"c":1},{"x":196,"y":251,"c":1},{"x":271,"y":251,"c":1},{"x":328,"y":241,"c":1},{"x":346,"y":241,"c":1},
{"x":122,"y":232,"c":1},{"x":178,"y":232,"c":1},{"x":234,"y":232,"c":1},{"x":290,"y":232,"c":1},{"x":309,"y":232,"c":1},{"x":421,"y":232,"c":1},{"x":159,"y":222,"c":1},{"x":215,"y":222,"c":1},{"x":234,"y":222,"c":1},{"x":253,"y":222,"c":1},{"x":271,"y":222,"c":1},{"x":290,"y":222,"c":1},{"x":421,"y":222,"c":1},{"x":459,"y":222,"c":1},{"x":140,"y":213,"c":1},{"x":178,"y":213,"c":1},{"x":196,"y":213,"c":1},{"x":234,"y":213,"c":1},{"x":253,"y":213,"c":1},{"x":290,"y":213,"c":1},{"x":309,"y":213,"c":1},{"x":402,"y":213,"c":1},
{"x":140,"y":203,"c":1},{"x":178,"y":203,"c":1},{"x":196,"y":203,"c":1},{"x":215,"y":203,"c":1},{"x":234,"y":203,"c":1},{"x":253,"y":203,"c":1},{"x":309,"y":203,"c":1},{"x":328,"y":203,"c":1},{"x":384,"y":203,"c":1},{"x":402,"y":203,"c":1},{"x":459,"y":203,"c":1},{"x":533,"y":203,"c":1},{"x":590,"y":203,"c":1},{"x":758,"y":203,"c":1},{"x":777,"y":203,"c":1},{"x":870,"y":203,"c":1},
{"x":84,"y":193,"c":1},{"x":103,"y":193,"c":1},{"x":140,"y":193,"c":1},{"x":159,"y":193,"c":1},{"x":178,"y":193,"c":1},{"x":196,"y":193,"c":1},{"x":215,"y":193,"c":1},{"x":234,"y":193,"c":1},{"x":253,"y":193,"c":1},{"x":271,"y":193,"c":1},{"x":365,"y":193,"c":1},{"x":384,"y":193,"c":1},{"x":440,"y":193,"c":1},{"x":459,"y":193,"c":1},{"x":533,"y":193,"c":1},{"x":683,"y":193,"c":1},{"x":852,"y":193,"c":1},
{"x":84,"y":184,"c":1},{"x":103,"y":184,"c":1},{"x":140,"y":184,"c":1},{"x":159,"y":184,"c":1},{"x":196,"y":184,"c":1},{"x":215,"y":184,"c":1},{"x":234,"y":184,"c":1},{"x":253,"y":184,"c":1},{"x":271,"y":184,"c":1},{"x":290,"y":184,"c":1},{"x":309,"y":184,"c":1},{"x":328,"y":184,"c":1},{"x":365,"y":184,"c":1},{"x":908,"y":184,"c":1},
{"x":84,"y":174,"c":1},{"x":103,"y":174,"c":1},{"x":122,"y":174,"c":1},{"x":140,"y":174,"c":1},{"x":159,"y":174,"c":1},{"x":178,"y":174,"c":1},{"x":196,"y":174,"c":1},{"x":215,"y":174,"c":1},{"x":253,"y":174,"c":1},{"x":271,"y":174,"c":1},{"x":290,"y":174,"c":1},{"x":309,"y":174,"c":1},{"x":328,"y":174,"c":1},{"x":365,"y":174,"c":1},{"x":384,"y":174,"c":1},{"x":402,"y":174,"c":1},{"x":421,"y":174,"c":1},{"x":496,"y":174,"c":1},{"x":515,"y":174,"c":1},{"x":814,"y":174,"c":1},{"x":870,"y":174,"c":1},
{"x":84,"y":164,"c":1},{"x":103,"y":164,"c":1},{"x":122,"y":164,"c":1},{"x":140,"y":164,"c":1},{"x":159,"y":164,"c":1},{"x":178,"y":164,"c":1},{"x":196,"y":164,"c":1},{"x":215,"y":164,"c":1},{"x":234,"y":164,"c":1},{"x":253,"y":164,"c":1},{"x":271,"y":164,"c":1},{"x":346,"y":164,"c":1},{"x":365,"y":164,"c":1},{"x":384,"y":164,"c":1},{"x":421,"y":164,"c":1},{"x":459,"y":164,"c":1},{"x":477,"y":164,"c":1},{"x":515,"y":164,"c":1},{"x":758,"y":164,"c":1},{"x":870,"y":164,"c":1},
{"x":84,"y":155,"c":1},{"x":103,"y":155,"c":1},{"x":140,"y":155,"c":1},{"x":159,"y":155,"c":1},{"x":178,"y":155,"c":1},{"x":196,"y":155,"c":1},{"x":215,"y":155,"c":1},{"x":234,"y":155,"c":1},{"x":253,"y":155,"c":1},{"x":271,"y":155,"c":1},{"x":290,"y":155,"c":1},{"x":309,"y":155,"c":1},{"x":328,"y":155,"c":1},{"x":365,"y":155,"c":1},{"x":384,"y":155,"c":1},{"x":421,"y":155,"c":1},{"x":440,"y":155,"c":1},{"x":459,"y":155,"c":1},{"x":477,"y":155,"c":1},{"x":515,"y":155,"c":1},{"x":571,"y":155,"c":1},{"x":646,"y":155,"c":1},{"x":739,"y":155,"c":1},{"x":777,"y":155,"c":1},{"x":814,"y":155,"c":1},{"x":833,"y":155,"c":1},{"x":852,"y":155,"c":1},{"x":889,"y":155,"c":1},
{"x":65,"y":145,"c":1},{"x":84,"y":145,"c":1},{"x":103,"y":145,"c":1},{"x":140,"y":145,"c":1},{"x":159,"y":145,"c":1},{"x":178,"y":145,"c":1},{"x":196,"y":145,"c":1},{"x":215,"y":145,"c":1},{"x":234,"y":145,"c":1},{"x":253,"y":145,"c":1},{"x":271,"y":145,"c":1},{"x":290,"y":145,"c":1},{"x":309,"y":145,"c":1},{"x":346,"y":145,"c":1},{"x":365,"y":145,"c":1},{"x":384,"y":145,"c":1},{"x":402,"y":145,"c":1},{"x":459,"y":145,"c":1},{"x":496,"y":145,"c":1},{"x":515,"y":145,"c":1},{"x":608,"y":145,"c":1},{"x":777,"y":145,"c":1},{"x":852,"y":145,"c":1},{"x":870,"y":145,"c":1},
{"x":65,"y":136,"c":3},{"x":84,"y":136,"c":1},{"x":103,"y":136,"c":1},{"x":140,"y":136,"c":1},{"x":159,"y":136,"c":1},{"x":178,"y":136,"c":1},{"x":196,"y":136,"c":1},{"x":215,"y":136,"c":2},{"x":234,"y":136,"c":1},{"x":253,"y":136,"c":1},{"x":271,"y":136,"c":1},{"x":290,"y":136,"c":1},{"x":309,"y":136,"c":1},{"x":328,"y":136,"c":1},{"x":346,"y":136,"c":1},{"x":365,"y":136,"c":1},{"x":384,"y":136,"c":1},{"x":402,"y":136,"c":1},{"x":459,"y":136,"c":1},{"x":477,"y":136,"c":1},{"x":496,"y":136,"c":1},{"x":515,"y":136,"c":1},{"x":533,"y":136,"c":1},{"x":665,"y":136,"c":1},{"x":683,"y":136,"c":1},{"x":702,"y":136,"c":1},{"x":721,"y":136,"c":1},{"x":777,"y":136,"c":1},{"x":814,"y":136,"c":1},{"x":852,"y":136,"c":1},{"x":927,"y":136,"c":1},
{"x":65,"y":126,"c":1},{"x":84,"y":126,"c":1},{"x":103,"y":126,"c":1},{"x":122,"y":126,"c":1},{"x":140,"y":126,"c":1},{"x":159,"y":126,"c":1},{"x":196,"y":126,"c":1},{"x":215,"y":126,"c":1},{"x":234,"y":126,"c":2},{"x":253,"y":126,"c":1},{"x":271,"y":126,"c":1},{"x":290,"y":126,"c":1},{"x":309,"y":126,"c":1},{"x":328,"y":126,"c":1},{"x":346,"y":126,"c":2},{"x":365,"y":126,"c":1},{"x":384,"y":126,"c":1},{"x":459,"y":126,"c":1},{"x":477,"y":126,"c":1},{"x":496,"y":126,"c":1},{"x":553,"y":126,"c":1},{"x":646,"y":126,"c":1},{"x":665,"y":126,"c":1},{"x":683,"y":126,"c":1},{"x":889,"y":126,"c":1},{"x":908,"y":126,"c":1},{"x":927,"y":126,"c":1},
{"x":65,"y":116,"c":1},{"x":84,"y":116,"c":1},{"x":103,"y":116,"c":1},{"x":122,"y":116,"c":2},{"x":140,"y":116,"c":1},{"x":159,"y":116,"c":1},{"x":178,"y":116,"c":1},{"x":196,"y":116,"c":1},{"x":215,"y":116,"c":1},{"x":234,"y":116,"c":1},{"x":253,"y":116,"c":1},{"x":271,"y":116,"c":1},{"x":290,"y":116,"c":1},{"x":309,"y":116,"c":2},{"x":328,"y":116,"c":2},{"x":346,"y":116,"c":1},{"x":365,"y":116,"c":1},{"x":384,"y":116,"c":2},{"x":402,"y":116,"c":1},{"x":421,"y":116,"c":1},{"x":459,"y":116,"c":1},{"x":477,"y":116,"c":1},{"x":496,"y":116,"c":1},{"x":553,"y":116,"c":1},{"x":590,"y":116,"c":1},{"x":665,"y":116,"c":1},{"x":833,"y":116,"c":1},{"x":852,"y":116,"c":1},{"x":927,"y":116,"c":1},
{"x":84,"y":107,"c":1},{"x":103,"y":107,"c":2},{"x":122,"y":107,"c":1},{"x":140,"y":107,"c":2},{"x":159,"y":107,"c":2},{"x":178,"y":107,"c":2},{"x":196,"y":107,"c":2},{"x":215,"y":107,"c":2},{"x":234,"y":107,"c":2},{"x":253,"y":107,"c":2},{"x":271,"y":107,"c":2},{"x":290,"y":107,"c":2},{"x":309,"y":107,"c":3},{"x":328,"y":107,"c":2},{"x":346,"y":107,"c":1},{"x":365,"y":107,"c":2},{"x":384,"y":107,"c":2},{"x":402,"y":107,"c":1},{"x":459,"y":107,"c":1},{"x":477,"y":107,"c":1},{"x":496,"y":107,"c":1},{"x":515,"y":107,"c":1},{"x":608,"y":107,"c":1},{"x":627,"y":107,"c":1},{"x":646,"y":107,"c":1},{"x":683,"y":107,"c":1},{"x":739,"y":107,"c":1},{"x":777,"y":107,"c":1},{"x":796,"y":107,"c":1},{"x":908,"y":107,"c":1},
{"x":103,"y":97,"c":1},{"x":122,"y":97,"c":2},{"x":140,"y":97,"c":2},{"x":159,"y":97,"c":2},{"x":178,"y":97,"c":2},{"x":196,"y":97,"c":2},{"x":215,"y":97,"c":3},{"x":234,"y":97,"c":3},{"x":253,"y":97,"c":2},{"x":271,"y":97,"c":2},{"x":290,"y":97,"c":2},{"x":309,"y":97,"c":3},{"x":328,"y":97,"c":4},{"x":346,"y":97,"c":3},{"x":365,"y":97,"c":2},{"x":384,"y":97,"c":3},{"x":402,"y":97,"c":2},{"x":421,"y":97,"c":2},{"x":440,"y":97,"c":2},{"x":459,"y":97,"c":1},{"x":477,"y":97,"c":1},{"x":515,"y":97,"c":1},{"x":553,"y":97,"c":1},{"x":571,"y":97,"c":1},{"x":608,"y":97,"c":1},{"x":627,"y":97,"c":1},{"x":739,"y":97,"c":1},{"x":758,"y":97,"c":1},{"x":777,"y":97,"c":1},{"x":796,"y":97,"c":1},{"x":814,"y":97,"c":1},{"x":833,"y":97,"c":1},{"x":852,"y":97,"c":1},{"x":870,"y":97,"c":1},{"x":927,"y":97,"c":1},
{"x":28,"y":87,"c":1},{"x":84,"y":87,"c":1},{"x":103,"y":87,"c":2},{"x":122,"y":87,"c":3},{"x":140,"y":87,"c":3},{"x":159,"y":87,"c":3},{"x":178,"y":87,"c":3},{"x":196,"y":87,"c":4},{"x":215,"y":87,"c":3},{"x":234,"y":87,"c":3},{"x":253,"y":87,"c":3},{"x":271,"y":87,"c":4},{"x":290,"y":87,"c":4},{"x":309,"y":87,"c":4},{"x":328,"y":87,"c":4},{"x":346,"y":87,"c":2},{"x":365,"y":87,"c":2},{"x":384,"y":87,"c":2},{"x":402,"y":87,"c":2},{"x":421,"y":87,"c":2},{"x":440,"y":87,"c":2},{"x":459,"y":87,"c":1},{"x":477,"y":87,"c":1},{"x":533,"y":87,"c":1},{"x":615,"y":87,"c":1},{"x":739,"y":87,"c":1},{"x":758,"y":87,"c":1},{"x":814,"y":87,"c":1},{"x":833,"y":87,"c":1},{"x":852,"y":87,"c":1},{"x":870,"y":87,"c":1},
{"x":28,"y":78,"c":1},{"x":47,"y":78,"c":1},{"x":65,"y":78,"c":1},{"x":84,"y":78,"c":1},{"x":103,"y":78,"c":2},{"x":122,"y":78,"c":3},{"x":140,"y":78,"c":5},{"x":159,"y":78,"c":5},{"x":178,"y":78,"c":5},{"x":196,"y":78,"c":6},{"x":215,"y":78,"c":4},{"x":234,"y":78,"c":4},{"x":253,"y":78,"c":4},{"x":271,"y":78,"c":4},{"x":290,"y":78,"c":2},{"x":309,"y":78,"c":3},{"x":328,"y":78,"c":3},{"x":346,"y":78,"c":3},{"x":365,"y":78,"c":2},{"x":384,"y":78,"c":3},{"x":402,"y":78,"c":2},{"x":421,"y":78,"c":2},{"x":440,"y":78,"c":2},{"x":459,"y":78,"c":1},{"x":477,"y":78,"c":1},{"x":533,"y":78,"c":1},{"x":552,"y":78,"c":1},{"x":761,"y":78,"c":1},{"x":833,"y":78,"c":1},{"x":852,"y":78,"c":1},{"x":889,"y":78,"c":1},{"x":945,"y":78,"c":1},
{"x":28,"y":68,"c":1},{"x":47,"y":68,"c":1},{"x":65,"y":68,"c":1},{"x":84,"y":68,"c":1},{"x":103,"y":68,"c":2},{"x":122,"y":68,"c":4},{"x":140,"y":68,"c":4},{"x":159,"y":68,"c":6},{"x":178,"y":68,"c":6},{"x":196,"y":68,"c":5},{"x":215,"y":68,"c":3},{"x":234,"y":68,"c":3},{"x":253,"y":68,"c":3},{"x":271,"y":68,"c":3},{"x":290,"y":68,"c":3},{"x":309,"y":68,"c":3},{"x":328,"y":68,"c":3},{"x":346,"y":68,"c":2},{"x":365,"y":68,"c":2},{"x":384,"y":68,"c":2},{"x":402,"y":68,"c":2},{"x":421,"y":68,"c":2},{"x":459,"y":68,"c":1},{"x":477,"y":68,"c":1},{"x":533,"y":68,"c":1},{"x":571,"y":68,"c":1},{"x":608,"y":68,"c":1},{"x":870,"y":68,"c":1},
{"x":28,"y":59,"c":1},{"x":47,"y":59,"c":1},{"x":65,"y":59,"c":2},{"x":84,"y":59,"c":3},{"x":103,"y":59,"c":4},{"x":122,"y":59,"c":5},{"x":140,"y":59,"c":6},{"x":159,"y":59,"c":6},{"x":178,"y":59,"c":5},{"x":196,"y":59,"c":4},{"x":215,"y":59,"c":3},{"x":234,"y":59,"c":3},{"x":253,"y":59,"c":3},{"x":271,"y":59,"c":3},{"x":290,"y":59,"c":3},{"x":309,"y":59,"c":4},{"x":328,"y":59,"c":3},{"x":346,"y":59,"c":3},{"x":365,"y":59,"c":3},{"x":384,"y":59,"c":3},{"x":402,"y":59,"c":2},{"x":421,"y":59,"c":2},{"x":459,"y":59,"c":1},{"x":477,"y":59,"c":1},{"x":571,"y":59,"c":1},{"x":608,"y":59,"c":1},
{"x":28,"y":49,"c":1},{"x":47,"y":49,"c":1},{"x":65,"y":49,"c":3},{"x":84,"y":49,"c":4},{"x":103,"y":49,"c":8},{"x":122,"y":49,"c":8},{"x":140,"y":49,"c":7},{"x":159,"y":49,"c":7},{"x":178,"y":49,"c":7},{"x":196,"y":49,"c":6},{"x":215,"y":49,"c":4},{"x":234,"y":49,"c":7},{"x":253,"y":49,"c":5},{"x":271,"y":49,"c":5},{"x":290,"y":49,"c":4},{"x":309,"y":49,"c":4},{"x":328,"y":49,"c":5},{"x":346,"y":49,"c":3},{"x":365,"y":49,"c":3},{"x":384,"y":49,"c":2},{"x":402,"y":49,"c":2},{"x":552,"y":49,"c":1},{"x":571,"y":49,"c":1},{"x":608,"y":49,"c":1},
{"x":65,"y":39,"c":3},{"x":84,"y":39,"c":9},{"x":103,"y":39,"c":10},{"x":122,"y":39,"c":10},{"x":140,"y":39,"c":10},{"x":159,"y":39,"c":10},{"x":178,"y":39,"c":9},{"x":196,"y":39,"c":8},{"x":215,"y":39,"c":9},{"x":234,"y":39,"c":9},{"x":253,"y":39,"c":8},{"x":271,"y":39,"c":5},{"x":290,"y":39,"c":7},{"x":309,"y":39,"c":5},{"x":328,"y":39,"c":6},{"x":346,"y":39,"c":4},{"x":365,"y":39,"c":4},{"x":384,"y":39,"c":3},{"x":402,"y":39,"c":3},{"x":421,"y":39,"c":2},{"x":440,"y":39,"c":2},{"x":459,"y":39,"c":2},{"x":477,"y":39,"c":2},
{"x":47,"y":30,"c":2},{"x":65,"y":30,"c":8},{"x":84,"y":30,"c":10},{"x":103,"y":30,"c":8},{"x":122,"y":30,"c":7},{"x":140,"y":30,"c":8},{"x":159,"y":30,"c":9},{"x":178,"y":30,"c":6},{"x":196,"y":30,"c":8},{"x":215,"y":30,"c":9},{"x":234,"y":30,"c":8},{"x":253,"y":30,"c":7},{"x":271,"y":30,"c":5},{"x":290,"y":30,"c":4},{"x":309,"y":30,"c":3},{"x":328,"y":30,"c":3},{"x":346,"y":30,"c":3},{"x":365,"y":30,"c":3},{"x":384,"y":30,"c":3},{"x":459,"y":30,"c":1},
{"x":47,"y":20,"c":2},{"x":65,"y":20,"c":7},{"x":84,"y":20,"c":9},{"x":103,"y":20,"c":6},{"x":122,"y":20,"c":3},{"x":140,"y":20,"c":3},{"x":159,"y":20,"c":3},{"x":178,"y":20,"c":2},{"x":196,"y":20,"c":3},{"x":215,"y":20,"c":3},{"x":234,"y":20,"c":3},{"x":253,"y":20,"c":2}
]},"mark":{"type":"rect","width":11.6,"height":11.3},"encoding":{"x":{"field":"x","type":"quantitative","title":"width","scale":{"domain":[-16.4,1021.4],"nice":false,"zero":false},"axis":{"values":[0,200,400,600,800,1000],"labelExpr":"format(datum.value/1000,'.1f')","titlePadding":9,"titleX":312.5}},"y":{"field":"y","type":"quantitative","title":"height","scale":{"domain":[-8,521.7],"nice":false,"zero":false},"axis":{"values":[0,100,200,300,400,500],"labelExpr":"format(datum.value/1000,'.1f')","labelPadding":12,"titlePadding":9.5,"titleY":309}},"color":{"field":"c","type":"ordinal","legend":null,"scale":{"domain":[1,2,3,4,5,6,7,8,9,10],"range":["#AAC7ED","#A3C5EE","#96BFF0","#83B7F2","#5FADF4","#36A2F6","#2E8BD9","#3778B5","#3C5C8B","#3B4D6B"]}}}}
]}
